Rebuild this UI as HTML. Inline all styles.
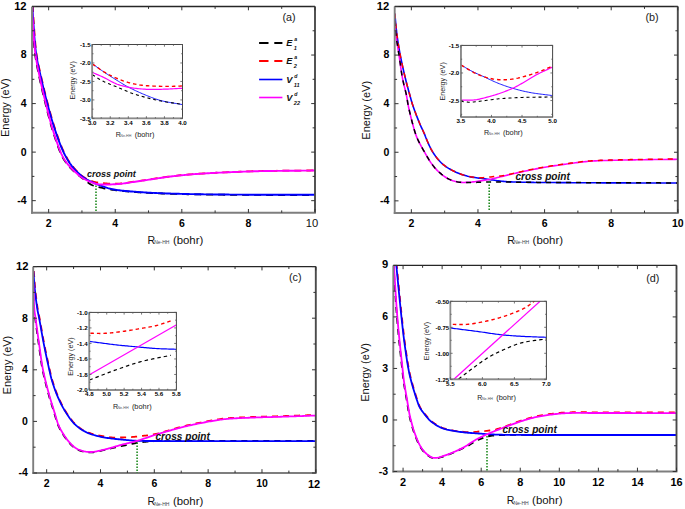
<!DOCTYPE html>
<html><head><meta charset="utf-8"><style>
html,body{margin:0;padding:0;background:#fff;width:685px;height:509px;overflow:hidden;}
svg{display:block;}
text{font-family:"Liberation Sans", sans-serif;}
</style></head><body>
<svg width="685" height="509" viewBox="0 0 685 509" font-family='"Liberation Sans", sans-serif'>
<rect width="685" height="509" fill="#fff"/>
<defs>
</defs>
<defs>
<clipPath id="cA"><rect x="32.00" y="6.00" width="283.00" height="206.80"/></clipPath>
<clipPath id="cB"><rect x="394.70" y="6.00" width="283.10" height="207.00"/></clipPath>
<clipPath id="cC"><rect x="33.20" y="266.00" width="282.60" height="207.00"/></clipPath>
<clipPath id="cD"><rect x="393.30" y="264.90" width="283.20" height="206.60"/></clipPath>
<clipPath id="iA"><rect x="92.20" y="44.50" width="90.30" height="73.90"/></clipPath>
<clipPath id="iB"><rect x="460.90" y="45.40" width="91.70" height="71.70"/></clipPath>
<clipPath id="iC"><rect x="89.30" y="312.40" width="87.10" height="77.60"/></clipPath>
<clipPath id="iD"><rect x="450.40" y="301.30" width="96.00" height="78.00"/></clipPath>
</defs>
<path d="M31.50,5.02 L31.57,6.36 L31.63,7.66 L31.70,8.94 L31.76,10.22 L31.82,11.49 L31.88,12.79 L31.95,14.12 L32.02,15.49 L32.10,16.92 L32.20,18.43 L32.30,20.03 L32.38,21.20 L32.46,22.42 L32.54,23.69 L32.62,25.01 L32.71,26.38 L32.80,27.78 L32.89,29.21 L32.99,30.67 L33.09,32.16 L33.19,33.67 L33.30,35.19 L33.41,36.72 L33.52,38.26 L33.64,39.81 L33.76,41.35 L33.89,42.89 L34.02,44.41 L34.16,45.93 L34.30,47.42 L34.45,48.89 L34.60,50.33 L34.76,51.74 L34.93,53.12 L35.10,54.45 L35.32,56.02 L35.55,57.55 L35.78,59.07 L36.02,60.56 L36.28,62.03 L36.54,63.48 L36.80,64.92 L37.07,66.35 L37.35,67.77 L37.63,69.18 L37.92,70.59 L38.21,71.99 L38.51,73.40 L38.81,74.81 L39.10,76.22 L39.41,77.65 L39.71,79.08 L40.01,80.52 L40.33,81.97 L40.64,83.41 L40.96,84.85 L41.28,86.28 L41.61,87.72 L41.94,89.16 L42.28,90.60 L42.62,92.03 L42.96,93.47 L43.30,94.90 L43.65,96.33 L44.00,97.77 L44.35,99.20 L44.70,100.63 L45.06,102.06 L45.41,103.50 L45.77,104.93 L46.12,106.36 L46.47,107.79 L46.83,109.23 L47.18,110.66 L47.54,112.09 L47.90,113.52 L48.27,114.95 L48.63,116.38 L49.01,117.81 L49.38,119.24 L49.77,120.67 L50.16,122.10 L50.56,123.53 L50.97,124.96 L51.39,126.39 L51.82,127.82 L52.24,129.21 L52.69,130.64 L53.14,132.09 L53.61,133.57 L54.09,135.06 L54.58,136.56 L55.07,138.06 L55.57,139.55 L56.07,141.03 L56.57,142.48 L57.07,143.91 L57.56,145.30 L58.05,146.64 L58.53,147.94 L59.00,149.17 L59.46,150.34 L59.90,151.44 L60.33,152.46 L61.02,154.02 L61.65,155.39 L62.26,156.64 L62.89,157.81 L63.58,158.99 L64.37,160.22 L65.10,161.31 L65.88,162.40 L66.70,163.48 L67.56,164.57 L68.46,165.65 L69.40,166.73 L70.39,167.81 L71.41,168.88 L72.35,169.81 L73.35,170.75 L74.39,171.69 L75.48,172.64 L76.59,173.58 L77.72,174.51 L78.84,175.43 L79.96,176.32 L81.06,177.19 L82.13,178.02 L83.15,178.82 L84.27,179.69 L85.36,180.56 L86.43,181.40 L87.50,182.22 L88.56,182.99 L89.63,183.71 L90.71,184.37 L91.83,184.96 L93.14,185.54 L94.45,186.01 L95.75,186.39 L97.08,186.73 L98.46,187.05 L99.91,187.39 L101.15,187.69 L102.42,187.98 L103.71,188.26 L105.05,188.53 L106.42,188.80 L107.85,189.06 L109.35,189.31 L110.91,189.55 L112.54,189.80 L113.73,189.96 L114.96,190.12 L116.22,190.28 L117.52,190.44 L118.86,190.59 L120.22,190.74 L121.62,190.88 L123.05,191.03 L124.50,191.17 L125.97,191.30 L127.47,191.44 L128.98,191.57 L130.52,191.70 L132.07,191.82 L133.63,191.94 L135.20,192.06 L136.79,192.18 L138.38,192.29 L139.97,192.40 L141.27,192.49 L142.58,192.57 L143.90,192.65 L145.23,192.73 L146.57,192.80 L147.92,192.88 L149.28,192.95 L150.65,193.02 L152.04,193.08 L153.43,193.15 L154.83,193.21 L156.25,193.27 L157.67,193.33 L159.11,193.39 L160.56,193.44 L162.01,193.49 L163.48,193.55 L164.96,193.60 L166.45,193.65 L167.95,193.70 L169.47,193.75 L170.99,193.79 L172.53,193.84 L174.08,193.88 L175.64,193.93 L177.21,193.97 L178.79,194.01 L180.38,194.06 L181.99,194.10 L183.30,194.13 L184.62,194.17 L185.96,194.20 L187.31,194.23 L188.67,194.26 L190.04,194.29 L191.42,194.31 L192.82,194.34 L194.23,194.37 L195.64,194.39 L197.07,194.41 L198.50,194.44 L199.95,194.46 L201.40,194.48 L202.86,194.50 L204.32,194.52 L205.80,194.54 L207.28,194.56 L208.76,194.58 L210.25,194.60 L211.75,194.61 L213.25,194.63 L214.76,194.64 L216.27,194.66 L217.78,194.67 L219.29,194.69 L220.81,194.70 L222.33,194.71 L223.85,194.73 L225.37,194.74 L226.89,194.75 L228.42,194.76 L229.94,194.78 L231.46,194.79 L232.98,194.80 L234.50,194.81 L236.01,194.82 L237.52,194.83 L239.03,194.84 L240.54,194.85 L242.04,194.86 L243.54,194.87 L245.03,194.88 L246.52,194.89 L248.00,194.90 L249.47,194.91 L250.93,194.92 L252.40,194.93 L253.87,194.93 L255.35,194.94 L256.82,194.95 L258.29,194.95 L259.76,194.96 L261.24,194.96 L262.71,194.97 L264.19,194.97 L265.67,194.98 L267.14,194.98 L268.62,194.98 L270.10,194.99 L271.58,194.99 L273.06,194.99 L274.53,194.99 L276.01,194.99 L277.49,194.99 L278.97,194.99 L280.46,194.99 L281.94,194.99 L283.42,194.99 L284.90,194.99 L286.38,194.99 L287.86,194.99 L289.34,194.99 L290.83,194.99 L292.31,194.99 L293.79,194.99 L295.27,194.99 L296.75,194.99 L298.24,194.99 L299.72,194.99 L301.20,194.99 L302.68,194.99 L304.16,194.99 L305.64,194.99 L307.12,194.99 L308.60,194.99 L310.08,194.99 L311.56,194.99 L313.04,195.00 L314.52,195.00 L316.00,195.00" fill="none" stroke="#000000" stroke-width="1.8" stroke-dasharray="7,5" clip-path="url(#cA)" stroke-linejoin="round" />
<path d="M32.70,4.98 L32.78,6.32 L32.85,7.62 L32.92,8.90 L32.99,10.18 L33.06,11.45 L33.13,12.75 L33.21,14.07 L33.29,15.44 L33.38,16.87 L33.48,18.38 L33.60,19.97 L33.68,21.14 L33.77,22.37 L33.86,23.64 L33.95,24.96 L34.04,26.33 L34.14,27.73 L34.23,29.16 L34.33,30.62 L34.44,32.11 L34.55,33.61 L34.66,35.13 L34.77,36.67 L34.90,38.21 L35.02,39.75 L35.15,41.29 L35.29,42.82 L35.43,44.34 L35.58,45.85 L35.73,47.34 L35.89,48.81 L36.05,50.24 L36.23,51.65 L36.41,53.02 L36.60,54.34 L36.83,55.90 L37.08,57.43 L37.34,58.94 L37.61,60.42 L37.89,61.88 L38.18,63.33 L38.48,64.77 L38.78,66.19 L39.09,67.61 L39.41,69.01 L39.73,70.42 L40.05,71.82 L40.38,73.23 L40.71,74.64 L41.03,76.05 L41.36,77.48 L41.69,78.91 L42.02,80.35 L42.35,81.79 L42.68,83.23 L43.02,84.67 L43.36,86.10 L43.70,87.54 L44.05,88.98 L44.40,90.41 L44.75,91.85 L45.10,93.28 L45.46,94.71 L45.82,96.14 L46.19,97.58 L46.56,99.01 L46.93,100.44 L47.31,101.87 L47.69,103.30 L48.07,104.73 L48.45,106.16 L48.84,107.60 L49.22,109.03 L49.61,110.46 L50.00,111.89 L50.39,113.32 L50.79,114.75 L51.19,116.18 L51.60,117.60 L52.02,119.03 L52.44,120.46 L52.87,121.88 L53.31,123.31 L53.76,124.73 L54.21,126.15 L54.68,127.57 L55.14,128.96 L55.61,130.36 L56.09,131.78 L56.57,133.20 L57.07,134.64 L57.57,136.08 L58.07,137.52 L58.59,138.95 L59.11,140.38 L59.63,141.79 L60.16,143.18 L60.69,144.56 L61.23,145.91 L61.77,147.23 L62.32,148.51 L62.86,149.76 L63.41,150.97 L63.96,152.13 L64.65,153.54 L65.34,154.90 L66.02,156.20 L66.70,157.46 L67.39,158.69 L68.09,159.88 L68.81,161.04 L69.56,162.19 L70.34,163.31 L71.16,164.43 L72.01,165.55 L72.94,166.70 L73.93,167.86 L74.95,169.01 L76.01,170.16 L77.10,171.28 L78.20,172.37 L79.31,173.41 L80.42,174.41 L81.51,175.34 L82.59,176.20 L83.63,176.97 L84.86,177.81 L86.08,178.54 L87.29,179.20 L88.49,179.79 L89.70,180.31 L90.91,180.79 L92.13,181.22 L93.40,181.62 L94.63,181.94 L95.86,182.20 L97.14,182.41 L98.52,182.61 L100.05,182.80 L101.21,182.94 L102.44,183.07 L103.73,183.20 L105.08,183.32 L106.48,183.43 L107.92,183.53 L109.40,183.62 L110.89,183.69 L112.39,183.73 L113.91,183.76 L115.41,183.77 L116.91,183.75 L118.38,183.70 L119.75,183.63 L121.11,183.52 L122.46,183.40 L123.81,183.25 L125.16,183.07 L126.52,182.88 L127.90,182.68 L129.29,182.46 L130.70,182.23 L132.15,182.00 L133.62,181.75 L135.14,181.51 L136.69,181.27 L138.29,181.03 L139.95,180.80 L141.17,180.64 L142.41,180.46 L143.67,180.28 L144.95,180.10 L146.25,179.91 L147.57,179.71 L148.90,179.51 L150.26,179.30 L151.63,179.10 L153.02,178.89 L154.43,178.67 L155.85,178.46 L157.29,178.25 L158.74,178.03 L160.21,177.81 L161.69,177.60 L163.18,177.39 L164.69,177.17 L166.21,176.96 L167.74,176.76 L169.28,176.55 L170.84,176.35 L172.40,176.16 L173.97,175.97 L175.55,175.78 L177.14,175.60 L178.74,175.43 L180.35,175.26 L181.96,175.10 L183.27,174.98 L184.59,174.86 L185.93,174.74 L187.27,174.62 L188.63,174.51 L190.01,174.40 L191.39,174.29 L192.79,174.18 L194.19,174.07 L195.61,173.97 L197.03,173.87 L198.47,173.77 L199.91,173.67 L201.36,173.58 L202.82,173.49 L204.29,173.40 L205.76,173.31 L207.24,173.22 L208.73,173.13 L210.22,173.05 L211.72,172.97 L213.22,172.88 L214.73,172.81 L216.24,172.73 L217.75,172.65 L219.27,172.58 L220.78,172.50 L222.30,172.43 L223.83,172.36 L225.35,172.29 L226.87,172.23 L228.39,172.16 L229.92,172.09 L231.44,172.03 L232.96,171.97 L234.48,171.91 L235.99,171.85 L237.51,171.79 L239.02,171.73 L240.52,171.67 L242.03,171.62 L243.52,171.56 L245.02,171.51 L246.50,171.45 L247.99,171.40 L249.45,171.35 L250.92,171.30 L252.39,171.26 L253.86,171.21 L255.33,171.17 L256.81,171.13 L258.28,171.10 L259.75,171.06 L261.23,171.03 L262.70,171.00 L264.18,170.97 L265.66,170.94 L267.13,170.92 L268.61,170.89 L270.09,170.87 L271.57,170.85 L273.05,170.83 L274.53,170.81 L276.01,170.79 L277.49,170.77 L278.97,170.76 L280.45,170.74 L281.93,170.73 L283.41,170.71 L284.89,170.70 L286.37,170.69 L287.86,170.67 L289.34,170.66 L290.82,170.65 L292.30,170.64 L293.78,170.63 L295.27,170.62 L296.75,170.60 L298.23,170.59 L299.71,170.58 L301.19,170.57 L302.68,170.55 L304.16,170.54 L305.64,170.52 L307.12,170.51 L308.60,170.49 L310.08,170.48 L311.56,170.46 L313.04,170.44 L314.52,170.42 L315.99,170.40" fill="none" stroke="#ff0000" stroke-width="1.8" stroke-dasharray="7,5" clip-path="url(#cA)" stroke-linejoin="round" />
<path d="M32.30,5.00 L32.38,6.34 L32.45,7.64 L32.52,8.93 L32.59,10.20 L32.66,11.47 L32.73,12.77 L32.81,14.10 L32.89,15.47 L32.98,16.90 L33.09,18.41 L33.20,20.00 L33.28,21.17 L33.37,22.39 L33.46,23.67 L33.55,24.99 L33.64,26.35 L33.74,27.75 L33.83,29.19 L33.93,30.65 L34.04,32.13 L34.15,33.64 L34.26,35.16 L34.38,36.70 L34.50,38.24 L34.62,39.78 L34.75,41.32 L34.89,42.86 L35.03,44.38 L35.18,45.89 L35.33,47.38 L35.49,48.85 L35.66,50.29 L35.83,51.70 L36.01,53.07 L36.20,54.40 L36.44,55.96 L36.69,57.50 L36.95,59.01 L37.22,60.49 L37.50,61.96 L37.79,63.41 L38.09,64.85 L38.39,66.28 L38.70,67.69 L39.02,69.10 L39.34,70.51 L39.66,71.91 L39.99,73.32 L40.32,74.73 L40.64,76.14 L40.97,77.57 L41.30,79.00 L41.63,80.44 L41.96,81.88 L42.29,83.32 L42.63,84.76 L42.97,86.20 L43.31,87.63 L43.66,89.07 L44.01,90.51 L44.36,91.94 L44.72,93.38 L45.07,94.81 L45.44,96.24 L45.80,97.68 L46.17,99.11 L46.54,100.54 L46.92,101.97 L47.30,103.40 L47.68,104.83 L48.07,106.27 L48.45,107.70 L48.84,109.13 L49.22,110.57 L49.61,112.00 L50.01,113.43 L50.41,114.86 L50.81,116.29 L51.22,117.72 L51.63,119.14 L52.06,120.57 L52.49,122.00 L52.93,123.42 L53.37,124.85 L53.83,126.28 L54.30,127.70 L54.76,129.08 L55.23,130.49 L55.71,131.90 L56.19,133.33 L56.69,134.77 L57.19,136.21 L57.70,137.65 L58.21,139.09 L58.73,140.52 L59.26,141.93 L59.79,143.33 L60.32,144.70 L60.86,146.06 L61.40,147.38 L61.95,148.67 L62.50,149.92 L63.05,151.13 L63.60,152.30 L64.29,153.72 L64.98,155.08 L65.66,156.39 L66.35,157.66 L67.04,158.89 L67.75,160.09 L68.48,161.26 L69.23,162.41 L70.01,163.55 L70.84,164.67 L71.70,165.80 L72.63,166.95 L73.59,168.10 L74.60,169.23 L75.63,170.35 L76.69,171.45 L77.78,172.53 L78.88,173.57 L80.00,174.57 L81.13,175.53 L82.26,176.44 L83.40,177.30 L84.54,178.10 L85.69,178.84 L86.85,179.53 L88.02,180.17 L89.20,180.78 L90.41,181.37 L91.64,181.93 L92.89,182.49 L94.18,183.04 L95.50,183.60 L96.79,184.14 L98.10,184.67 L99.43,185.19 L100.78,185.70 L102.15,186.20 L103.55,186.69 L104.98,187.16 L106.44,187.61 L107.93,188.05 L109.45,188.46 L111.01,188.84 L112.60,189.20 L113.87,189.46 L115.16,189.70 L116.48,189.92 L117.81,190.13 L119.17,190.31 L120.54,190.49 L121.93,190.65 L123.35,190.80 L124.78,190.94 L126.23,191.07 L127.69,191.20 L129.18,191.32 L130.68,191.43 L132.19,191.54 L133.72,191.65 L135.27,191.76 L136.83,191.87 L138.41,191.98 L140.00,192.10 L141.30,192.19 L142.61,192.29 L143.92,192.37 L145.25,192.46 L146.59,192.54 L147.94,192.62 L149.30,192.69 L150.67,192.77 L152.05,192.84 L153.45,192.91 L154.85,192.97 L156.26,193.04 L157.69,193.10 L159.12,193.16 L160.57,193.22 L162.03,193.27 L163.49,193.33 L164.97,193.38 L166.47,193.43 L167.97,193.48 L169.48,193.53 L171.00,193.58 L172.54,193.63 L174.09,193.67 L175.65,193.72 L177.22,193.77 L178.80,193.81 L180.39,193.86 L182.00,193.90 L183.31,193.94 L184.63,193.97 L185.97,194.00 L187.31,194.03 L188.67,194.06 L190.05,194.09 L191.43,194.12 L192.83,194.15 L194.23,194.17 L195.65,194.20 L197.07,194.22 L198.51,194.25 L199.95,194.27 L201.40,194.29 L202.86,194.31 L204.33,194.33 L205.80,194.35 L207.28,194.37 L208.77,194.39 L210.26,194.40 L211.76,194.42 L213.26,194.44 L214.76,194.45 L216.27,194.47 L217.78,194.48 L219.30,194.49 L220.81,194.51 L222.33,194.52 L223.85,194.53 L225.38,194.54 L226.90,194.56 L228.42,194.57 L229.94,194.58 L231.46,194.59 L232.98,194.60 L234.50,194.61 L236.01,194.62 L237.53,194.63 L239.04,194.64 L240.54,194.65 L242.04,194.66 L243.54,194.67 L245.03,194.68 L246.52,194.69 L248.00,194.70 L249.47,194.71 L250.94,194.72 L252.41,194.73 L253.88,194.73 L255.35,194.74 L256.82,194.75 L258.29,194.75 L259.77,194.76 L261.24,194.76 L262.71,194.77 L264.19,194.77 L265.67,194.78 L267.14,194.78 L268.62,194.78 L270.10,194.79 L271.58,194.79 L273.06,194.79 L274.53,194.79 L276.01,194.79 L277.49,194.79 L278.97,194.79 L280.46,194.79 L281.94,194.79 L283.42,194.79 L284.90,194.79 L286.38,194.79 L287.86,194.79 L289.34,194.79 L290.83,194.79 L292.31,194.79 L293.79,194.79 L295.27,194.79 L296.75,194.79 L298.24,194.79 L299.72,194.79 L301.20,194.79 L302.68,194.79 L304.16,194.79 L305.64,194.79 L307.12,194.79 L308.60,194.79 L310.08,194.79 L311.56,194.79 L313.04,194.80 L314.52,194.80 L316.00,194.80" fill="none" stroke="#0000ff" stroke-width="1.9" clip-path="url(#cA)" stroke-linejoin="round" />
<path d="M31.90,5.00 L31.97,6.34 L32.03,7.64 L32.10,8.93 L32.16,10.20 L32.22,11.47 L32.28,12.77 L32.35,14.10 L32.42,15.47 L32.50,16.90 L32.60,18.41 L32.70,20.00 L32.78,21.17 L32.86,22.39 L32.94,23.67 L33.02,24.99 L33.11,26.35 L33.20,27.75 L33.29,29.18 L33.39,30.65 L33.49,32.13 L33.59,33.64 L33.69,35.16 L33.80,36.69 L33.92,38.23 L34.04,39.78 L34.16,41.32 L34.29,42.85 L34.42,44.38 L34.56,45.89 L34.70,47.38 L34.85,48.85 L35.00,50.29 L35.16,51.70 L35.33,53.07 L35.50,54.40 L35.72,55.96 L35.94,57.49 L36.18,59.00 L36.42,60.49 L36.67,61.96 L36.93,63.41 L37.19,64.85 L37.47,66.27 L37.74,67.69 L38.03,69.10 L38.31,70.51 L38.60,71.91 L38.90,73.32 L39.20,74.73 L39.50,76.14 L39.80,77.57 L40.10,79.00 L40.41,80.44 L40.72,81.88 L41.03,83.32 L41.35,84.76 L41.67,86.20 L42.00,87.63 L42.33,89.07 L42.67,90.50 L43.01,91.94 L43.35,93.37 L43.69,94.81 L44.04,96.24 L44.39,97.67 L44.74,99.10 L45.09,100.54 L45.44,101.97 L45.80,103.40 L46.16,104.83 L46.51,106.27 L46.86,107.70 L47.22,109.13 L47.57,110.56 L47.93,111.99 L48.29,113.42 L48.65,114.85 L49.02,116.28 L49.39,117.71 L49.77,119.14 L50.15,120.57 L50.55,121.99 L50.95,123.42 L51.35,124.85 L51.77,126.27 L52.20,127.70 L52.63,129.09 L53.07,130.52 L53.52,131.97 L53.99,133.45 L54.47,134.94 L54.96,136.44 L55.45,137.94 L55.95,139.43 L56.45,140.90 L56.95,142.35 L57.45,143.78 L57.94,145.16 L58.43,146.51 L58.91,147.80 L59.38,149.03 L59.83,150.19 L60.27,151.29 L60.70,152.30 L61.38,153.86 L62.01,155.22 L62.61,156.45 L63.24,157.62 L63.92,158.78 L64.70,160.00 L65.43,161.08 L66.20,162.16 L67.01,163.24 L67.87,164.32 L68.76,165.39 L69.70,166.46 L70.68,167.53 L71.70,168.60 L72.62,169.53 L73.58,170.48 L74.58,171.44 L75.62,172.41 L76.68,173.37 L77.77,174.32 L78.88,175.25 L80.00,176.14 L81.14,176.98 L82.27,177.77 L83.40,178.50 L84.73,179.26 L86.13,179.99 L87.58,180.66 L89.04,181.29 L90.49,181.87 L91.89,182.39 L93.21,182.86 L94.43,183.26 L95.50,183.60 L96.87,184.00 L98.01,184.23 L99.50,184.40 L100.49,184.47 L101.62,184.52 L102.88,184.55 L104.24,184.57 L105.69,184.56 L107.22,184.54 L108.79,184.51 L110.41,184.45 L112.04,184.39 L113.67,184.31 L115.29,184.22 L116.87,184.11 L118.40,184.00 L119.79,183.88 L121.16,183.74 L122.52,183.59 L123.88,183.42 L125.24,183.23 L126.60,183.04 L127.98,182.83 L129.37,182.62 L130.78,182.40 L132.22,182.17 L133.69,181.94 L135.20,181.70 L136.75,181.47 L138.35,181.23 L140.00,181.00 L141.22,180.83 L142.46,180.65 L143.72,180.47 L145.00,180.28 L146.31,180.08 L147.63,179.88 L148.96,179.68 L150.32,179.47 L151.69,179.26 L153.08,179.04 L154.49,178.82 L155.91,178.61 L157.35,178.39 L158.80,178.17 L160.27,177.95 L161.75,177.73 L163.24,177.52 L164.75,177.30 L166.26,177.09 L167.79,176.88 L169.33,176.67 L170.89,176.47 L172.45,176.27 L174.02,176.07 L175.60,175.89 L177.19,175.70 L178.78,175.53 L180.39,175.36 L182.00,175.20 L183.31,175.08 L184.63,174.95 L185.96,174.83 L187.31,174.72 L188.67,174.60 L190.04,174.49 L191.42,174.38 L192.82,174.27 L194.22,174.17 L195.63,174.06 L197.06,173.96 L198.49,173.86 L199.94,173.76 L201.39,173.67 L202.85,173.58 L204.31,173.48 L205.79,173.39 L207.27,173.31 L208.75,173.22 L210.24,173.14 L211.74,173.06 L213.24,172.98 L214.75,172.90 L216.26,172.82 L217.77,172.74 L219.29,172.67 L220.80,172.60 L222.32,172.53 L223.84,172.46 L225.37,172.39 L226.89,172.32 L228.41,172.26 L229.93,172.19 L231.45,172.13 L232.97,172.07 L234.49,172.00 L236.01,171.94 L237.52,171.89 L239.03,171.83 L240.54,171.77 L242.04,171.72 L243.54,171.66 L245.03,171.61 L246.52,171.55 L248.00,171.50 L249.47,171.45 L250.94,171.40 L252.40,171.36 L253.87,171.31 L255.35,171.27 L256.82,171.23 L258.29,171.20 L259.76,171.16 L261.24,171.13 L262.71,171.10 L264.19,171.07 L265.66,171.04 L267.14,171.02 L268.62,170.99 L270.10,170.97 L271.57,170.95 L273.05,170.93 L274.53,170.91 L276.01,170.89 L277.49,170.87 L278.97,170.86 L280.45,170.84 L281.93,170.83 L283.41,170.81 L284.90,170.80 L286.38,170.79 L287.86,170.77 L289.34,170.76 L290.82,170.75 L292.31,170.74 L293.79,170.73 L295.27,170.72 L296.75,170.70 L298.23,170.69 L299.72,170.68 L301.20,170.67 L302.68,170.65 L304.16,170.64 L305.64,170.62 L307.12,170.61 L308.60,170.59 L310.08,170.58 L311.56,170.56 L313.04,170.54 L314.52,170.52 L316.00,170.50" fill="none" stroke="#ff00ff" stroke-width="1.9" clip-path="url(#cA)" stroke-linejoin="round" />
<line x1="32.00" y1="6.50" x2="315.00" y2="6.50" stroke="#262626" stroke-width="1.3"/>
<line x1="315.00" y1="6.50" x2="315.00" y2="212.80" stroke="#4a4a4a" stroke-width="1.9"/>
<line x1="32.00" y1="6.50" x2="32.00" y2="213.70" stroke="#7e7e7e" stroke-width="1.9"/>
<line x1="31.10" y1="212.80" x2="315.90" y2="212.80" stroke="#7e7e7e" stroke-width="1.9"/>
<path d="M48.65,212.80L48.65,209.00 M48.65,6.50L48.65,10.30 M115.24,212.80L115.24,209.00 M115.24,6.50L115.24,10.30 M181.82,212.80L181.82,209.00 M181.82,6.50L181.82,10.30 M248.41,212.80L248.41,209.00 M248.41,6.50L248.41,10.30 M315.00,212.80L315.00,209.00 M315.00,6.50L315.00,10.30 M81.94,212.80L81.94,210.40 M81.94,6.50L81.94,8.90 M148.53,212.80L148.53,210.40 M148.53,6.50L148.53,8.90 M215.12,212.80L215.12,210.40 M215.12,6.50L215.12,8.90 M281.71,212.80L281.71,210.40 M281.71,6.50L281.71,8.90 M32.00,200.66L35.80,200.66 M315.00,200.66L311.20,200.66 M32.00,152.12L35.80,152.12 M315.00,152.12L311.20,152.12 M32.00,103.58L35.80,103.58 M315.00,103.58L311.20,103.58 M32.00,55.04L35.80,55.04 M315.00,55.04L311.20,55.04 M32.00,6.50L35.80,6.50 M315.00,6.50L311.20,6.50 M32.00,176.39L34.40,176.39 M315.00,176.39L312.60,176.39 M32.00,127.85L34.40,127.85 M315.00,127.85L312.60,127.85 M32.00,79.31L34.40,79.31 M315.00,79.31L312.60,79.31 M32.00,30.77L34.40,30.77 M315.00,30.77L312.60,30.77" stroke="#333" stroke-width="1.0" fill="none"/>
<text x="48.65" y="226.50" font-size="10.5" font-weight="bold" font-style="normal" text-anchor="middle" fill="#000" >2</text>
<text x="115.24" y="226.50" font-size="10.5" font-weight="bold" font-style="normal" text-anchor="middle" fill="#000" >4</text>
<text x="181.82" y="226.50" font-size="10.5" font-weight="bold" font-style="normal" text-anchor="middle" fill="#000" >6</text>
<text x="248.41" y="226.50" font-size="10.5" font-weight="bold" font-style="normal" text-anchor="middle" fill="#000" >8</text>
<text x="312.00" y="226.90" font-size="11.2" font-weight="normal" font-style="normal" text-anchor="middle" fill="#111" >10</text>
<text x="26.70" y="204.06" font-size="10.5" font-weight="bold" font-style="normal" text-anchor="end" fill="#000" >-4</text>
<text x="26.70" y="155.52" font-size="10.5" font-weight="bold" font-style="normal" text-anchor="end" fill="#000" >0</text>
<text x="26.70" y="106.98" font-size="10.5" font-weight="bold" font-style="normal" text-anchor="end" fill="#000" >4</text>
<text x="26.70" y="58.44" font-size="10.5" font-weight="bold" font-style="normal" text-anchor="end" fill="#000" >8</text>
<text x="26.60" y="9.60" font-size="11.2" font-weight="bold" font-style="normal" text-anchor="end" fill="#000" >12</text>
<text x="0" y="0" font-size="11" text-anchor="middle" fill="#111" transform="translate(8.60,107.65) rotate(-90)">Energy (eV)</text>
<text x="147.60" y="243.90" font-size="10.6" fill="#111">R</text>
<text x="154.20" y="244.20" font-size="5" fill="#3a3f4a">Ne-HH</text>
<text x="172.90" y="243.90" font-size="11.4" fill="#111">(bohr)</text>
<text x="282.40" y="20.60" font-size="10.8" font-weight="normal" font-style="normal" text-anchor="start" fill="#1a1a1a" >(a)</text>
<line x1="96.00" y1="185.50" x2="96.00" y2="212.00" stroke="#1f8a1f" stroke-width="1.6" stroke-dasharray="1.5,1.5"/>
<text x="86.90" y="176.80" font-size="9.1" font-weight="bold" font-style="italic" text-anchor="start" fill="#111" >cross point</text>
<line x1="259.1" y1="42.90" x2="282.4" y2="42.90" stroke="#000000" stroke-width="2.0" stroke-dasharray="9.4,5.8"/>
<line x1="259.1" y1="60.90" x2="282.4" y2="60.90" stroke="#ff0000" stroke-width="2.0" stroke-dasharray="9.4,5.8"/>
<line x1="259.1" y1="79.50" x2="282.4" y2="79.50" stroke="#0000ff" stroke-width="1.6"/>
<line x1="259.1" y1="97.50" x2="282.4" y2="97.50" stroke="#ff00ff" stroke-width="1.6"/>
<text x="286.2" y="46.30" font-size="9.2" font-weight="bold" font-style="italic" fill="#111">E</text>
<text x="294.2" y="41.30" font-size="5.2" font-weight="bold" font-style="italic" fill="#111">a</text>
<text x="293.8" y="49.90" font-size="5.6" font-weight="bold" font-style="italic" fill="#111">1</text>
<text x="286.2" y="64.30" font-size="9.2" font-weight="bold" font-style="italic" fill="#111">E</text>
<text x="294.2" y="59.30" font-size="5.2" font-weight="bold" font-style="italic" fill="#111">a</text>
<text x="293.8" y="67.90" font-size="5.6" font-weight="bold" font-style="italic" fill="#111">2</text>
<text x="286.2" y="82.90" font-size="9.2" font-weight="bold" font-style="italic" fill="#111">V</text>
<text x="294.2" y="77.90" font-size="5.2" font-weight="bold" font-style="italic" fill="#111">d</text>
<text x="293.8" y="86.50" font-size="5.6" font-weight="bold" font-style="italic" fill="#111">11</text>
<text x="286.2" y="100.90" font-size="9.2" font-weight="bold" font-style="italic" fill="#111">V</text>
<text x="294.2" y="95.90" font-size="5.2" font-weight="bold" font-style="italic" fill="#111">d</text>
<text x="293.8" y="104.50" font-size="5.6" font-weight="bold" font-style="italic" fill="#111">22</text>
<rect x="92.2" y="44.5" width="90.3" height="73.9" fill="#fff"/>
<path d="M92.40,63.80 L93.52,64.61 L94.63,65.41 L95.72,66.21 L96.82,67.01 L97.93,67.81 L99.05,68.62 L100.20,69.44 L101.38,70.26 L102.60,71.10 L103.72,71.86 L104.89,72.64 L106.09,73.43 L107.31,74.23 L108.56,75.04 L109.82,75.85 L111.08,76.66 L112.34,77.46 L113.59,78.25 L114.82,79.02 L116.03,79.77 L117.20,80.50 L118.40,81.24 L119.57,81.97 L120.71,82.67 L121.83,83.36 L122.95,84.04 L124.08,84.72 L125.22,85.38 L126.40,86.05 L127.62,86.72 L128.90,87.40 L130.12,88.03 L131.39,88.67 L132.70,89.31 L134.04,89.95 L135.41,90.60 L136.79,91.24 L138.19,91.88 L139.59,92.50 L140.98,93.12 L142.37,93.72 L143.74,94.30 L145.09,94.86 L146.40,95.40 L147.75,95.95 L149.07,96.48 L150.37,97.00 L151.65,97.50 L152.93,97.98 L154.21,98.46 L155.50,98.91 L156.82,99.35 L158.16,99.78 L159.56,100.20 L161.00,100.60 L162.30,100.94 L163.64,101.25 L165.01,101.55 L166.41,101.84 L167.83,102.11 L169.27,102.37 L170.73,102.62 L172.20,102.87 L173.68,103.11 L175.17,103.35 L176.65,103.59 L178.13,103.84 L179.60,104.08 L181.06,104.34 L182.50,104.60" fill="none" stroke="#0000ff" stroke-width="0.9" clip-path="url(#iA)" stroke-linejoin="round" />
<path d="M92.40,72.50 L93.66,73.04 L94.91,73.57 L96.15,74.09 L97.40,74.61 L98.65,75.14 L99.93,75.70 L101.25,76.28 L102.60,76.90 L103.83,77.50 L105.10,78.15 L106.39,78.83 L107.70,79.55 L109.04,80.28 L110.38,81.01 L111.74,81.72 L113.11,82.41 L114.47,83.06 L115.84,83.66 L117.20,84.20 L118.51,84.66 L119.82,85.09 L121.14,85.48 L122.46,85.84 L123.79,86.18 L125.12,86.49 L126.45,86.79 L127.79,87.06 L129.13,87.32 L130.46,87.56 L131.80,87.80 L133.25,88.04 L134.71,88.25 L136.17,88.45 L137.63,88.62 L139.09,88.77 L140.55,88.91 L142.01,89.02 L143.47,89.13 L144.94,89.22 L146.40,89.30 L147.85,89.36 L149.27,89.41 L150.69,89.43 L152.10,89.44 L153.52,89.44 L154.96,89.43 L156.41,89.40 L157.90,89.37 L159.43,89.34 L161.00,89.30 L162.31,89.27 L163.66,89.22 L165.04,89.17 L166.44,89.11 L167.86,89.05 L169.30,88.98 L170.76,88.91 L172.23,88.83 L173.70,88.75 L175.18,88.67 L176.66,88.60 L178.13,88.52 L179.60,88.44 L181.06,88.37 L182.50,88.30" fill="none" stroke="#ff00ff" stroke-width="1.2" clip-path="url(#iA)" stroke-linejoin="round" />
<path d="M92.40,64.00 L93.61,64.82 L94.81,65.64 L96.00,66.48 L97.19,67.32 L98.38,68.16 L99.57,69.00 L100.77,69.83 L101.98,70.64 L103.20,71.44 L104.44,72.22 L105.71,72.97 L107.00,73.70 L108.27,74.38 L109.58,75.05 L110.90,75.71 L112.25,76.35 L113.61,76.98 L114.99,77.60 L116.37,78.19 L117.75,78.77 L119.12,79.32 L120.49,79.86 L121.85,80.36 L123.18,80.85 L124.50,81.30 L125.86,81.75 L127.21,82.17 L128.54,82.56 L129.87,82.93 L131.19,83.27 L132.50,83.59 L133.81,83.89 L135.13,84.17 L136.45,84.43 L137.77,84.67 L139.10,84.90 L140.55,85.12 L142.01,85.30 L143.47,85.46 L144.93,85.59 L146.39,85.70 L147.85,85.80 L149.31,85.88 L150.78,85.96 L152.24,86.03 L153.70,86.10 L155.16,86.17 L156.62,86.23 L158.08,86.28 L159.55,86.32 L161.01,86.35 L162.47,86.37 L163.93,86.39 L165.39,86.40 L166.85,86.40 L168.30,86.40 L169.73,86.39 L171.15,86.36 L172.57,86.33 L173.99,86.29 L175.41,86.24 L176.83,86.19 L178.25,86.14 L179.66,86.09 L181.08,86.04 L182.50,86.00" fill="none" stroke="#ff0000" stroke-width="1.4" stroke-dasharray="3.5,3" clip-path="url(#iA)" stroke-linejoin="round" />
<path d="M92.40,74.70 L93.66,75.49 L94.90,76.30 L96.12,77.10 L97.35,77.91 L98.60,78.71 L99.89,79.49 L101.21,80.26 L102.60,81.00 L103.81,81.60 L105.07,82.18 L106.36,82.75 L107.68,83.31 L109.03,83.85 L110.39,84.40 L111.76,84.93 L113.13,85.47 L114.50,86.01 L115.86,86.55 L117.20,87.10 L118.53,87.66 L119.85,88.23 L121.17,88.81 L122.50,89.39 L123.82,89.96 L125.15,90.54 L126.47,91.10 L127.80,91.65 L129.13,92.19 L130.46,92.71 L131.80,93.20 L133.12,93.66 L134.44,94.11 L135.76,94.54 L137.08,94.96 L138.41,95.36 L139.74,95.75 L141.07,96.14 L142.40,96.51 L143.73,96.88 L145.07,97.24 L146.40,97.60 L147.84,97.98 L149.27,98.35 L150.68,98.71 L152.09,99.05 L153.51,99.39 L154.94,99.72 L156.40,100.05 L157.89,100.37 L159.42,100.69 L161.00,101.00 L162.31,101.25 L163.65,101.49 L165.03,101.73 L166.43,101.96 L167.85,102.19 L169.29,102.41 L170.75,102.64 L172.22,102.86 L173.70,103.08 L175.18,103.29 L176.66,103.51 L178.13,103.73 L179.60,103.95 L181.06,104.17 L182.50,104.40" fill="none" stroke="#000000" stroke-width="1.1" stroke-dasharray="3,3" clip-path="url(#iA)" stroke-linejoin="round" />
<rect x="92.20" y="44.50" width="90.30" height="73.90" fill="none" stroke="#444" stroke-width="1.0"/>
<line x1="92.20" y1="44.50" x2="92.20" y2="118.40" stroke="#8a8a8a" stroke-width="1.7"/>
<line x1="92.20" y1="118.40" x2="182.50" y2="118.40" stroke="#8a8a8a" stroke-width="1.7"/>
<path d="M92.20,118.40L92.20,116.20 M92.20,44.50L92.20,46.70 M110.26,118.40L110.26,116.20 M110.26,44.50L110.26,46.70 M128.32,118.40L128.32,116.20 M128.32,44.50L128.32,46.70 M146.38,118.40L146.38,116.20 M146.38,44.50L146.38,46.70 M164.44,118.40L164.44,116.20 M164.44,44.50L164.44,46.70 M182.50,118.40L182.50,116.20 M182.50,44.50L182.50,46.70 M101.23,118.40L101.23,117.10 M101.23,44.50L101.23,45.80 M119.29,118.40L119.29,117.10 M119.29,44.50L119.29,45.80 M137.35,118.40L137.35,117.10 M137.35,44.50L137.35,45.80 M155.41,118.40L155.41,117.10 M155.41,44.50L155.41,45.80 M173.47,118.40L173.47,117.10 M173.47,44.50L173.47,45.80 M92.20,44.50L94.40,44.50 M182.50,44.50L180.30,44.50 M92.20,62.98L94.40,62.98 M182.50,62.98L180.30,62.98 M92.20,81.45L94.40,81.45 M182.50,81.45L180.30,81.45 M92.20,99.93L94.40,99.93 M182.50,99.93L180.30,99.93 M92.20,118.40L94.40,118.40 M182.50,118.40L180.30,118.40 M92.20,53.74L93.50,53.74 M182.50,53.74L181.20,53.74 M92.20,72.21L93.50,72.21 M182.50,72.21L181.20,72.21 M92.20,90.69L93.50,90.69 M182.50,90.69L181.20,90.69 M92.20,109.16L93.50,109.16 M182.50,109.16L181.20,109.16" stroke="#555" stroke-width="0.8" fill="none"/>
<text x="92.20" y="124.60" font-size="6.2" font-weight="bold" font-style="normal" text-anchor="middle" fill="#000" >3.0</text>
<text x="110.26" y="124.60" font-size="6.2" font-weight="bold" font-style="normal" text-anchor="middle" fill="#000" >3.2</text>
<text x="128.32" y="124.60" font-size="6.2" font-weight="bold" font-style="normal" text-anchor="middle" fill="#000" >3.4</text>
<text x="146.38" y="124.60" font-size="6.2" font-weight="bold" font-style="normal" text-anchor="middle" fill="#000" >3.6</text>
<text x="164.44" y="124.60" font-size="6.2" font-weight="bold" font-style="normal" text-anchor="middle" fill="#000" >3.8</text>
<text x="182.50" y="124.60" font-size="6.2" font-weight="bold" font-style="normal" text-anchor="middle" fill="#000" >4.0</text>
<text x="90.60" y="46.70" font-size="6.2" font-weight="bold" font-style="normal" text-anchor="end" fill="#000" >-1.5</text>
<text x="90.60" y="65.17" font-size="6.2" font-weight="bold" font-style="normal" text-anchor="end" fill="#000" >-2.0</text>
<text x="90.60" y="83.65" font-size="6.2" font-weight="bold" font-style="normal" text-anchor="end" fill="#000" >-2.5</text>
<text x="90.60" y="102.13" font-size="6.2" font-weight="bold" font-style="normal" text-anchor="end" fill="#000" >-3.0</text>
<text x="90.60" y="120.60" font-size="6.2" font-weight="bold" font-style="normal" text-anchor="end" fill="#000" >-3.5</text>
<text x="0" y="0" font-size="7.2" text-anchor="middle" fill="#222" transform="translate(74.90,80.40) rotate(-90)">Energy (eV)</text>
<text x="115.70" y="136.50" font-size="7" fill="#222">R</text>
<text x="120.30" y="136.70" font-size="3.6" fill="#4a505c">Ne-HH</text>
<text x="154.40" y="136.50" font-size="7.4" fill="#222" text-anchor="end">(bohr)</text>
<path d="M394.80,13.50 L394.94,14.89 L395.07,16.29 L395.20,17.69 L395.33,19.09 L395.46,20.49 L395.58,21.89 L395.71,23.28 L395.84,24.68 L395.98,26.08 L396.11,27.47 L396.26,28.87 L396.41,30.25 L396.56,31.64 L396.73,33.02 L396.90,34.40 L397.09,35.84 L397.28,37.27 L397.48,38.68 L397.69,40.09 L397.89,41.50 L398.11,42.90 L398.33,44.30 L398.56,45.71 L398.79,47.13 L399.04,48.55 L399.29,49.99 L399.55,51.44 L399.82,52.91 L400.10,54.40 L400.36,55.73 L400.62,57.08 L400.90,58.47 L401.19,59.87 L401.49,61.29 L401.79,62.72 L402.10,64.16 L402.42,65.61 L402.74,67.05 L403.06,68.49 L403.39,69.92 L403.71,71.33 L404.04,72.73 L404.36,74.11 L404.68,75.46 L404.99,76.77 L405.30,78.06 L405.60,79.30 L405.99,80.88 L406.38,82.43 L406.78,83.95 L407.17,85.44 L407.56,86.90 L407.95,88.32 L408.33,89.72 L408.71,91.09 L409.08,92.42 L409.45,93.73 L409.80,95.00 L410.22,96.52 L410.61,97.97 L410.99,99.37 L411.37,100.73 L411.76,102.07 L412.17,103.42 L412.60,104.80 L413.01,106.04 L413.44,107.28 L413.88,108.52 L414.33,109.76 L414.79,111.00 L415.26,112.23 L415.73,113.47 L416.20,114.70 L416.67,115.93 L417.14,117.16 L417.62,118.39 L418.10,119.61 L418.58,120.84 L419.08,122.06 L419.58,123.28 L420.10,124.50 L420.66,125.77 L421.26,127.08 L421.88,128.41 L422.50,129.74 L423.11,131.02 L423.67,132.22 L424.18,133.33 L424.60,134.30 L425.03,135.41 L425.34,136.33 L425.80,137.50 L426.19,138.42 L426.64,139.50 L427.14,140.71 L427.70,142.02 L428.30,143.40 L428.94,144.83 L429.61,146.28 L430.31,147.72 L431.03,149.12 L431.76,150.46 L432.50,151.70 L433.24,152.86 L434.00,154.01 L434.79,155.15 L435.60,156.28 L436.43,157.38 L437.28,158.47 L438.16,159.52 L439.06,160.55 L439.99,161.54 L440.93,162.49 L441.90,163.40 L442.95,164.32 L444.03,165.19 L445.14,166.02 L446.27,166.82 L447.42,167.58 L448.60,168.32 L449.80,169.02 L451.02,169.70 L452.25,170.36 L453.50,171.00 L454.71,171.59 L455.94,172.16 L457.21,172.70 L458.49,173.22 L459.79,173.72 L461.10,174.20 L462.41,174.65 L463.72,175.08 L465.03,175.48 L466.32,175.85 L467.60,176.20 L469.05,176.55 L470.51,176.86 L471.98,177.12 L473.44,177.35 L474.89,177.56 L476.32,177.75 L477.72,177.93 L479.08,178.11 L480.40,178.30 L481.94,178.53 L483.38,178.73 L484.77,178.91 L486.17,179.10 L487.63,179.29 L489.20,179.50 L490.47,179.68 L491.77,179.87 L493.10,180.07 L494.47,180.28 L495.87,180.49 L497.30,180.70 L498.77,180.89 L500.28,181.08 L501.82,181.25 L503.40,181.40 L504.69,181.50 L506.01,181.60 L507.35,181.68 L508.72,181.76 L510.11,181.83 L511.53,181.89 L512.97,181.94 L514.43,181.99 L515.91,182.04 L517.40,182.08 L518.92,182.12 L520.45,182.16 L521.99,182.19 L523.55,182.23 L525.12,182.26 L526.70,182.30 L528.02,182.33 L529.35,182.36 L530.68,182.38 L532.02,182.40 L533.36,182.42 L534.72,182.44 L536.08,182.46 L537.46,182.47 L538.85,182.48 L540.25,182.49 L541.66,182.50 L543.09,182.51 L544.53,182.52 L545.99,182.53 L547.46,182.53 L548.96,182.54 L550.47,182.55 L552.00,182.55 L553.56,182.56 L555.13,182.57 L556.73,182.58 L558.35,182.59 L560.00,182.60 L561.26,182.61 L562.54,182.62 L563.84,182.63 L565.16,182.63 L566.50,182.64 L567.85,182.65 L569.22,182.66 L570.61,182.67 L572.01,182.68 L573.43,182.69 L574.86,182.69 L576.30,182.70 L577.75,182.71 L579.22,182.72 L580.69,182.73 L582.18,182.73 L583.67,182.74 L585.17,182.75 L586.68,182.76 L588.19,182.77 L589.71,182.77 L591.24,182.78 L592.76,182.79 L594.29,182.80 L595.83,182.80 L597.36,182.81 L598.90,182.82 L600.43,182.82 L601.96,182.83 L603.50,182.84 L605.02,182.84 L606.55,182.85 L608.07,182.86 L609.59,182.86 L611.10,182.87 L612.60,182.87 L614.10,182.88 L615.59,182.88 L617.07,182.89 L618.54,182.90 L620.00,182.90 L621.47,182.90 L622.94,182.91 L624.41,182.91 L625.88,182.92 L627.35,182.92 L628.82,182.93 L630.28,182.93 L631.75,182.93 L633.21,182.94 L634.68,182.94 L636.14,182.94 L637.60,182.94 L639.07,182.95 L640.53,182.95 L641.99,182.95 L643.45,182.95 L644.91,182.96 L646.38,182.96 L647.84,182.96 L649.30,182.96 L650.76,182.96 L652.22,182.97 L653.68,182.97 L655.14,182.97 L656.60,182.97 L658.05,182.97 L659.51,182.97 L660.97,182.98 L662.43,182.98 L663.89,182.98 L665.35,182.98 L666.81,182.98 L668.27,182.98 L669.73,182.99 L671.19,182.99 L672.65,182.99 L674.11,182.99 L675.58,183.00 L677.04,183.00 L678.50,183.00" fill="none" stroke="#0000ff" stroke-width="1.6" clip-path="url(#cB)" stroke-linejoin="round" />
<path d="M394.80,21.00 L394.92,22.47 L395.02,23.93 L395.12,25.37 L395.22,26.81 L395.33,28.27 L395.44,29.74 L395.57,31.25 L395.72,32.80 L395.90,34.40 L396.06,35.70 L396.23,37.03 L396.42,38.39 L396.61,39.76 L396.82,41.16 L397.04,42.58 L397.26,44.02 L397.49,45.47 L397.73,46.93 L397.96,48.41 L398.20,49.90 L398.44,51.39 L398.67,52.89 L398.90,54.40 L399.11,55.80 L399.32,57.24 L399.53,58.71 L399.74,60.20 L399.95,61.70 L400.17,63.22 L400.39,64.75 L400.60,66.28 L400.82,67.81 L401.05,69.33 L401.27,70.84 L401.50,72.32 L401.73,73.79 L401.97,75.22 L402.21,76.62 L402.45,77.98 L402.70,79.30 L403.02,80.88 L403.36,82.43 L403.71,83.95 L404.07,85.44 L404.44,86.89 L404.80,88.32 L405.16,89.71 L405.50,91.08 L405.82,92.42 L406.13,93.72 L406.40,95.00 L406.69,96.52 L406.95,97.96 L407.18,99.36 L407.39,100.72 L407.61,102.06 L407.84,103.42 L408.10,104.80 L408.39,106.21 L408.68,107.63 L408.99,109.05 L409.31,110.46 L409.64,111.88 L409.97,113.29 L410.30,114.70 L410.64,116.10 L410.98,117.51 L411.33,118.91 L411.69,120.31 L412.05,121.71 L412.42,123.10 L412.80,124.50 L413.19,125.93 L413.60,127.38 L414.01,128.85 L414.43,130.30 L414.85,131.70 L415.28,133.05 L415.70,134.30 L416.13,135.52 L416.54,136.61 L416.96,137.67 L417.44,138.77 L418.00,140.00 L418.54,141.13 L419.15,142.34 L419.82,143.61 L420.52,144.94 L421.26,146.29 L422.02,147.67 L422.79,149.04 L423.55,150.39 L424.30,151.70 L424.98,152.89 L425.66,154.09 L426.35,155.31 L427.05,156.52 L427.75,157.73 L428.46,158.92 L429.18,160.09 L429.91,161.24 L430.65,162.34 L431.40,163.40 L432.23,164.52 L433.06,165.61 L433.89,166.65 L434.74,167.67 L435.61,168.65 L436.50,169.62 L437.43,170.57 L438.40,171.50 L439.45,172.47 L440.55,173.43 L441.67,174.38 L442.83,175.31 L444.01,176.19 L445.22,177.03 L446.45,177.80 L447.70,178.50 L448.94,179.12 L450.22,179.68 L451.52,180.20 L452.84,180.66 L454.18,181.07 L455.52,181.43 L456.86,181.74 L458.20,182.00 L459.50,182.20 L460.79,182.33 L462.09,182.41 L463.40,182.44 L464.71,182.44 L466.03,182.41 L467.36,182.36 L468.70,182.30 L470.15,182.21 L471.62,182.08 L473.12,181.91 L474.62,181.72 L476.11,181.52 L477.58,181.31 L479.01,181.10 L480.40,180.90 L481.92,180.69 L483.35,180.49 L484.75,180.28 L486.17,180.05 L487.63,179.80 L489.20,179.50 L490.48,179.23 L491.81,178.94 L493.18,178.62 L494.59,178.28 L496.02,177.93 L497.48,177.56 L498.95,177.19 L500.44,176.82 L501.92,176.46 L503.40,176.10 L504.73,175.78 L506.06,175.46 L507.39,175.14 L508.73,174.82 L510.08,174.49 L511.44,174.17 L512.81,173.84 L514.20,173.51 L515.61,173.19 L517.05,172.86 L518.51,172.53 L520.00,172.20 L521.35,171.91 L522.73,171.61 L524.13,171.31 L525.56,171.00 L527.01,170.70 L528.47,170.39 L529.95,170.09 L531.44,169.78 L532.94,169.48 L534.44,169.18 L535.95,168.88 L537.45,168.59 L538.95,168.31 L540.44,168.03 L541.93,167.76 L543.40,167.50 L544.85,167.25 L546.31,167.00 L547.76,166.76 L549.22,166.53 L550.67,166.30 L552.13,166.07 L553.59,165.85 L555.04,165.63 L556.50,165.42 L557.95,165.21 L559.41,165.00 L560.87,164.80 L562.32,164.60 L563.78,164.40 L565.24,164.20 L566.70,164.00 L568.16,163.80 L569.62,163.60 L571.08,163.40 L572.54,163.21 L574.00,163.01 L575.46,162.82 L576.93,162.62 L578.39,162.44 L579.85,162.26 L581.32,162.08 L582.78,161.91 L584.24,161.75 L585.71,161.60 L587.17,161.45 L588.64,161.32 L590.10,161.20 L591.56,161.09 L593.02,160.99 L594.48,160.91 L595.95,160.83 L597.41,160.77 L598.87,160.71 L600.33,160.65 L601.80,160.61 L603.26,160.56 L604.72,160.53 L606.19,160.49 L607.65,160.45 L609.11,160.42 L610.58,160.38 L612.04,160.34 L613.50,160.30 L614.95,160.26 L616.37,160.22 L617.78,160.18 L619.17,160.14 L620.56,160.11 L621.94,160.08 L623.33,160.05 L624.73,160.02 L626.14,159.99 L627.57,159.96 L629.02,159.93 L630.50,159.91 L632.02,159.88 L633.57,159.85 L635.16,159.83 L636.80,159.80 L638.09,159.78 L639.41,159.76 L640.75,159.74 L642.12,159.72 L643.52,159.70 L644.94,159.68 L646.38,159.66 L647.84,159.64 L649.31,159.62 L650.80,159.61 L652.31,159.59 L653.83,159.57 L655.36,159.55 L656.90,159.54 L658.44,159.52 L660.00,159.50 L661.55,159.49 L663.11,159.47 L664.67,159.45 L666.23,159.44 L667.79,159.42 L669.35,159.40 L670.90,159.39 L672.44,159.37 L673.97,159.35 L675.49,159.34 L677.00,159.32 L678.50,159.30" fill="none" stroke="#ff00ff" stroke-width="1.6" clip-path="url(#cB)" stroke-linejoin="round" />
<path d="M394.80,13.50 L394.94,14.89 L395.07,16.29 L395.20,17.69 L395.33,19.09 L395.46,20.49 L395.58,21.89 L395.71,23.28 L395.84,24.68 L395.98,26.08 L396.11,27.47 L396.26,28.87 L396.41,30.25 L396.56,31.64 L396.73,33.02 L396.90,34.40 L397.09,35.84 L397.28,37.27 L397.48,38.68 L397.69,40.09 L397.89,41.50 L398.11,42.90 L398.33,44.30 L398.56,45.71 L398.79,47.13 L399.04,48.55 L399.29,49.99 L399.55,51.44 L399.82,52.91 L400.10,54.40 L400.36,55.73 L400.62,57.08 L400.90,58.47 L401.19,59.87 L401.49,61.29 L401.79,62.72 L402.10,64.16 L402.42,65.61 L402.74,67.05 L403.06,68.49 L403.39,69.92 L403.71,71.33 L404.04,72.73 L404.36,74.11 L404.68,75.46 L404.99,76.77 L405.30,78.06 L405.60,79.30 L405.99,80.88 L406.38,82.43 L406.78,83.95 L407.17,85.44 L407.56,86.90 L407.95,88.32 L408.33,89.72 L408.71,91.09 L409.08,92.42 L409.45,93.73 L409.80,95.00 L410.22,96.52 L410.61,97.97 L410.99,99.37 L411.37,100.73 L411.76,102.07 L412.17,103.42 L412.60,104.80 L413.01,106.04 L413.44,107.28 L413.88,108.52 L414.33,109.76 L414.79,111.00 L415.26,112.23 L415.73,113.47 L416.20,114.70 L416.67,115.93 L417.14,117.16 L417.62,118.39 L418.10,119.61 L418.58,120.84 L419.08,122.06 L419.58,123.28 L420.10,124.50 L420.66,125.77 L421.26,127.08 L421.88,128.41 L422.50,129.74 L423.11,131.02 L423.67,132.22 L424.18,133.33 L424.60,134.30 L425.03,135.41 L425.34,136.33 L425.80,137.50 L426.19,138.42 L426.64,139.50 L427.14,140.71 L427.70,142.02 L428.30,143.40 L428.94,144.83 L429.61,146.28 L430.31,147.72 L431.03,149.12 L431.76,150.46 L432.50,151.70 L433.24,152.86 L434.00,154.01 L434.79,155.15 L435.60,156.28 L436.43,157.38 L437.28,158.47 L438.16,159.52 L439.06,160.55 L439.99,161.54 L440.93,162.49 L441.90,163.40 L442.95,164.32 L444.03,165.19 L445.14,166.02 L446.27,166.82 L447.42,167.58 L448.60,168.32 L449.80,169.02 L451.02,169.70 L452.25,170.36 L453.50,171.00 L454.71,171.59 L455.94,172.16 L457.20,172.72 L458.49,173.25 L459.79,173.76 L461.09,174.24 L462.41,174.70 L463.72,175.12 L465.03,175.52 L466.32,175.88 L467.60,176.20 L469.06,176.52 L470.54,176.79 L472.04,177.02 L473.54,177.22 L475.01,177.37 L476.45,177.50 L477.84,177.59 L479.16,177.66 L480.40,177.70 L481.83,177.71 L483.12,177.65 L484.35,177.55 L485.62,177.43 L487.00,177.30 L488.22,177.19 L489.53,177.06 L490.89,176.92 L492.29,176.77 L493.68,176.62 L495.03,176.47 L496.31,176.33 L497.50,176.20 L499.03,176.06 L500.37,175.96 L501.76,175.83 L503.40,175.60 L504.48,175.41 L505.65,175.18 L506.90,174.92 L508.21,174.63 L509.58,174.31 L511.00,173.98 L512.46,173.63 L513.95,173.28 L515.45,172.92 L516.97,172.57 L518.49,172.23 L520.00,171.90 L521.35,171.61 L522.73,171.32 L524.14,171.02 L525.56,170.72 L527.01,170.42 L528.48,170.11 L529.95,169.80 L531.44,169.50 L532.94,169.19 L534.44,168.89 L535.95,168.59 L537.45,168.30 L538.95,168.01 L540.44,167.73 L541.93,167.46 L543.40,167.20 L544.85,166.95 L546.31,166.70 L547.76,166.46 L549.22,166.23 L550.67,166.00 L552.13,165.77 L553.59,165.55 L555.04,165.33 L556.50,165.12 L557.95,164.91 L559.41,164.70 L560.87,164.50 L562.32,164.30 L563.78,164.10 L565.24,163.90 L566.70,163.70 L568.16,163.50 L569.62,163.30 L571.08,163.10 L572.54,162.91 L574.00,162.71 L575.46,162.52 L576.93,162.32 L578.39,162.14 L579.85,161.96 L581.32,161.78 L582.78,161.61 L584.24,161.45 L585.71,161.30 L587.17,161.15 L588.64,161.02 L590.10,160.90 L591.56,160.79 L593.02,160.69 L594.48,160.61 L595.95,160.53 L597.41,160.47 L598.87,160.41 L600.33,160.35 L601.80,160.31 L603.26,160.26 L604.72,160.23 L606.19,160.19 L607.65,160.15 L609.11,160.12 L610.58,160.08 L612.04,160.04 L613.50,160.00 L614.95,159.96 L616.37,159.92 L617.78,159.88 L619.17,159.84 L620.56,159.81 L621.94,159.78 L623.33,159.75 L624.73,159.72 L626.14,159.69 L627.57,159.66 L629.02,159.63 L630.50,159.61 L632.02,159.58 L633.57,159.55 L635.16,159.53 L636.80,159.50 L638.09,159.48 L639.41,159.46 L640.75,159.44 L642.12,159.42 L643.52,159.40 L644.94,159.38 L646.38,159.36 L647.84,159.34 L649.31,159.32 L650.80,159.31 L652.31,159.29 L653.83,159.27 L655.36,159.25 L656.90,159.24 L658.44,159.22 L660.00,159.20 L661.55,159.19 L663.11,159.17 L664.67,159.15 L666.23,159.14 L667.79,159.12 L669.35,159.10 L670.90,159.09 L672.44,159.07 L673.97,159.05 L675.49,159.04 L677.00,159.02 L678.50,159.00" fill="none" stroke="#ff0000" stroke-width="1.5" stroke-dasharray="5,5" clip-path="url(#cB)" stroke-linejoin="round" />
<path d="M394.80,21.00 L394.92,22.47 L395.02,23.93 L395.12,25.37 L395.22,26.81 L395.33,28.27 L395.44,29.74 L395.57,31.25 L395.72,32.80 L395.90,34.40 L396.06,35.70 L396.23,37.03 L396.42,38.39 L396.61,39.76 L396.82,41.16 L397.04,42.58 L397.26,44.02 L397.49,45.47 L397.73,46.93 L397.96,48.41 L398.20,49.90 L398.44,51.39 L398.67,52.89 L398.90,54.40 L399.11,55.80 L399.32,57.24 L399.53,58.71 L399.74,60.20 L399.95,61.70 L400.17,63.22 L400.39,64.75 L400.60,66.28 L400.82,67.81 L401.05,69.33 L401.27,70.84 L401.50,72.32 L401.73,73.79 L401.97,75.22 L402.21,76.62 L402.45,77.98 L402.70,79.30 L403.02,80.88 L403.36,82.43 L403.71,83.95 L404.07,85.44 L404.44,86.89 L404.80,88.32 L405.16,89.71 L405.50,91.08 L405.82,92.42 L406.13,93.72 L406.40,95.00 L406.69,96.52 L406.95,97.96 L407.18,99.36 L407.39,100.72 L407.61,102.06 L407.84,103.42 L408.10,104.80 L408.39,106.21 L408.68,107.63 L408.99,109.05 L409.31,110.46 L409.64,111.88 L409.97,113.29 L410.30,114.70 L410.64,116.10 L410.98,117.51 L411.33,118.91 L411.69,120.31 L412.05,121.71 L412.42,123.10 L412.80,124.50 L413.19,125.93 L413.60,127.38 L414.01,128.85 L414.43,130.30 L414.85,131.70 L415.28,133.05 L415.70,134.30 L416.13,135.52 L416.54,136.61 L416.96,137.67 L417.44,138.77 L418.00,140.00 L418.54,141.13 L419.15,142.34 L419.82,143.61 L420.52,144.94 L421.26,146.29 L422.02,147.67 L422.79,149.04 L423.55,150.39 L424.30,151.70 L424.98,152.89 L425.66,154.09 L426.35,155.31 L427.05,156.52 L427.75,157.73 L428.46,158.92 L429.18,160.09 L429.91,161.24 L430.65,162.34 L431.40,163.40 L432.23,164.52 L433.06,165.61 L433.89,166.65 L434.74,167.67 L435.61,168.65 L436.50,169.62 L437.43,170.57 L438.40,171.50 L439.45,172.47 L440.55,173.43 L441.67,174.38 L442.83,175.31 L444.01,176.19 L445.22,177.03 L446.45,177.80 L447.70,178.50 L448.94,179.12 L450.22,179.68 L451.52,180.19 L452.84,180.65 L454.18,181.06 L455.52,181.42 L456.86,181.73 L458.20,182.00 L459.50,182.20 L460.79,182.32 L462.09,182.39 L463.40,182.42 L464.71,182.42 L466.03,182.40 L467.36,182.39 L468.70,182.40 L470.14,182.41 L471.62,182.42 L473.11,182.41 L474.61,182.40 L476.11,182.38 L477.58,182.36 L479.01,182.33 L480.40,182.30 L481.91,182.26 L483.35,182.20 L484.75,182.15 L486.16,182.09 L487.63,182.04 L489.20,182.00 L490.47,181.98 L491.77,181.97 L493.10,181.96 L494.47,181.96 L495.87,181.96 L497.31,181.96 L498.78,181.97 L500.28,181.98 L501.82,181.99 L503.40,182.00 L504.69,182.01 L506.01,182.02 L507.35,182.04 L508.72,182.05 L510.12,182.07 L511.53,182.09 L512.97,182.11 L514.43,182.14 L515.91,182.16 L517.41,182.18 L518.92,182.20 L520.45,182.23 L521.99,182.25 L523.55,182.27 L525.12,182.28 L526.70,182.30 L528.02,182.31 L529.35,182.32 L530.68,182.33 L532.02,182.34 L533.36,182.35 L534.72,182.36 L536.08,182.37 L537.46,182.38 L538.85,182.39 L540.25,182.40 L541.66,182.41 L543.09,182.41 L544.53,182.42 L545.99,182.43 L547.46,182.44 L548.96,182.44 L550.47,182.45 L552.00,182.46 L553.56,182.47 L555.13,182.47 L556.73,182.48 L558.35,182.49 L560.00,182.50 L561.26,182.51 L562.54,182.51 L563.84,182.52 L565.16,182.53 L566.50,182.54 L567.85,182.54 L569.22,182.55 L570.61,182.56 L572.01,182.57 L573.43,182.58 L574.86,182.58 L576.30,182.59 L577.75,182.60 L579.22,182.61 L580.69,182.62 L582.18,182.62 L583.67,182.63 L585.17,182.64 L586.68,182.65 L588.19,182.66 L589.71,182.66 L591.24,182.67 L592.76,182.68 L594.29,182.69 L595.83,182.70 L597.36,182.70 L598.90,182.71 L600.43,182.72 L601.96,182.73 L603.50,182.73 L605.02,182.74 L606.55,182.75 L608.07,182.75 L609.59,182.76 L611.10,182.77 L612.60,182.77 L614.10,182.78 L615.59,182.78 L617.07,182.79 L618.54,182.79 L620.00,182.80 L621.47,182.80 L622.94,182.81 L624.41,182.81 L625.88,182.82 L627.35,182.82 L628.82,182.83 L630.28,182.83 L631.75,182.83 L633.21,182.84 L634.68,182.84 L636.14,182.84 L637.60,182.84 L639.07,182.85 L640.53,182.85 L641.99,182.85 L643.45,182.85 L644.91,182.86 L646.38,182.86 L647.84,182.86 L649.30,182.86 L650.76,182.86 L652.22,182.87 L653.68,182.87 L655.14,182.87 L656.60,182.87 L658.05,182.87 L659.51,182.87 L660.97,182.88 L662.43,182.88 L663.89,182.88 L665.35,182.88 L666.81,182.88 L668.27,182.88 L669.73,182.89 L671.19,182.89 L672.65,182.89 L674.11,182.89 L675.58,182.90 L677.04,182.90 L678.50,182.90" fill="none" stroke="#000000" stroke-width="1.5" stroke-dasharray="5,5" clip-path="url(#cB)" stroke-linejoin="round" />
<line x1="394.70" y1="6.50" x2="677.80" y2="6.50" stroke="#262626" stroke-width="1.3"/>
<line x1="677.80" y1="6.50" x2="677.80" y2="213.00" stroke="#4a4a4a" stroke-width="1.9"/>
<line x1="394.70" y1="6.50" x2="394.70" y2="213.90" stroke="#7e7e7e" stroke-width="1.9"/>
<line x1="393.80" y1="213.00" x2="678.70" y2="213.00" stroke="#7e7e7e" stroke-width="1.9"/>
<path d="M411.35,213.00L411.35,209.20 M411.35,6.50L411.35,10.30 M477.96,213.00L477.96,209.20 M477.96,6.50L477.96,10.30 M544.58,213.00L544.58,209.20 M544.58,6.50L544.58,10.30 M611.19,213.00L611.19,209.20 M611.19,6.50L611.19,10.30 M677.80,213.00L677.80,209.20 M677.80,6.50L677.80,10.30 M444.66,213.00L444.66,210.60 M444.66,6.50L444.66,8.90 M511.27,213.00L511.27,210.60 M511.27,6.50L511.27,8.90 M577.88,213.00L577.88,210.60 M577.88,6.50L577.88,8.90 M644.49,213.00L644.49,210.60 M644.49,6.50L644.49,8.90 M394.70,200.85L398.50,200.85 M677.80,200.85L674.00,200.85 M394.70,152.26L398.50,152.26 M677.80,152.26L674.00,152.26 M394.70,103.68L398.50,103.68 M677.80,103.68L674.00,103.68 M394.70,55.09L398.50,55.09 M677.80,55.09L674.00,55.09 M394.70,6.50L398.50,6.50 M677.80,6.50L674.00,6.50 M394.70,176.56L397.10,176.56 M677.80,176.56L675.40,176.56 M394.70,127.97L397.10,127.97 M677.80,127.97L675.40,127.97 M394.70,79.38L397.10,79.38 M677.80,79.38L675.40,79.38 M394.70,30.79L397.10,30.79 M677.80,30.79L675.40,30.79" stroke="#333" stroke-width="1.0" fill="none"/>
<text x="411.35" y="226.80" font-size="10.5" font-weight="bold" font-style="normal" text-anchor="middle" fill="#000" >2</text>
<text x="477.96" y="226.80" font-size="10.5" font-weight="bold" font-style="normal" text-anchor="middle" fill="#000" >4</text>
<text x="544.58" y="226.80" font-size="10.5" font-weight="bold" font-style="normal" text-anchor="middle" fill="#000" >6</text>
<text x="611.19" y="226.80" font-size="10.5" font-weight="bold" font-style="normal" text-anchor="middle" fill="#000" >8</text>
<text x="677.80" y="226.80" font-size="10.5" font-weight="bold" font-style="normal" text-anchor="middle" fill="#000" >10</text>
<text x="389.40" y="204.25" font-size="10.5" font-weight="bold" font-style="normal" text-anchor="end" fill="#000" >-4</text>
<text x="389.40" y="155.66" font-size="10.5" font-weight="bold" font-style="normal" text-anchor="end" fill="#000" >0</text>
<text x="389.40" y="107.08" font-size="10.5" font-weight="bold" font-style="normal" text-anchor="end" fill="#000" >4</text>
<text x="389.40" y="58.49" font-size="10.5" font-weight="bold" font-style="normal" text-anchor="end" fill="#000" >8</text>
<text x="389.20" y="9.70" font-size="11.2" font-weight="bold" font-style="normal" text-anchor="end" fill="#000" >12</text>
<text x="0" y="0" font-size="11" text-anchor="middle" fill="#111" transform="translate(370.30,110.30) rotate(-90)">Energy (eV)</text>
<text x="507.30" y="243.90" font-size="10.6" fill="#111">R</text>
<text x="513.90" y="244.20" font-size="5" fill="#3a3f4a">Ne-HH</text>
<text x="532.60" y="243.90" font-size="11.4" fill="#111">(bohr)</text>
<text x="645.40" y="20.60" font-size="10.8" font-weight="normal" font-style="normal" text-anchor="start" fill="#1a1a1a" >(b)</text>
<line x1="489.20" y1="181.50" x2="489.20" y2="210.50" stroke="#1f8a1f" stroke-width="1.6" stroke-dasharray="1.5,1.5"/>
<text x="515.40" y="179.60" font-size="10.1" font-weight="bold" font-style="italic" text-anchor="start" fill="#111" >cross point</text>
<rect x="460.9" y="45.4" width="91.7" height="71.7" fill="#fff"/>
<path d="M460.80,64.90 L462.04,65.62 L463.27,66.34 L464.51,67.07 L465.74,67.79 L466.97,68.52 L468.21,69.23 L469.46,69.94 L470.72,70.63 L472.00,71.30 L473.32,71.96 L474.64,72.60 L475.98,73.22 L477.33,73.84 L478.68,74.44 L480.05,75.04 L481.42,75.65 L482.81,76.27 L484.20,76.90 L485.42,77.46 L486.65,78.04 L487.88,78.63 L489.13,79.22 L490.37,79.81 L491.63,80.40 L492.89,80.99 L494.16,81.56 L495.44,82.13 L496.72,82.67 L498.00,83.20 L499.30,83.72 L500.61,84.22 L501.92,84.71 L503.23,85.20 L504.55,85.67 L505.88,86.13 L507.22,86.58 L508.57,87.03 L509.93,87.46 L511.31,87.88 L512.70,88.30 L514.08,88.70 L515.46,89.09 L516.85,89.47 L518.25,89.85 L519.66,90.21 L521.09,90.57 L522.53,90.91 L523.98,91.25 L525.46,91.58 L526.95,91.89 L528.46,92.20 L530.00,92.50 L531.33,92.74 L532.68,92.97 L534.05,93.19 L535.45,93.40 L536.85,93.60 L538.27,93.79 L539.71,93.98 L541.15,94.16 L542.59,94.34 L544.04,94.52 L545.50,94.69 L546.95,94.87 L548.40,95.04 L549.84,95.22 L551.28,95.41 L552.70,95.60" fill="none" stroke="#0000ff" stroke-width="0.9" clip-path="url(#iB)" stroke-linejoin="round" />
<path d="M460.80,100.00 L462.24,100.03 L463.68,100.06 L465.11,100.09 L466.55,100.11 L468.00,100.10 L469.45,100.09 L470.88,100.08 L472.32,100.05 L473.82,99.97 L475.40,99.80 L476.73,99.60 L478.13,99.34 L479.57,99.04 L481.04,98.71 L482.54,98.35 L484.04,97.97 L485.53,97.58 L487.00,97.20 L488.31,96.86 L489.61,96.51 L490.90,96.15 L492.20,95.78 L493.50,95.39 L494.81,95.00 L496.12,94.58 L497.45,94.15 L498.80,93.70 L500.16,93.23 L501.55,92.74 L502.96,92.24 L504.38,91.72 L505.80,91.18 L507.22,90.63 L508.63,90.06 L510.02,89.48 L511.38,88.90 L512.70,88.30 L514.02,87.67 L515.32,87.03 L516.59,86.37 L517.84,85.69 L519.07,85.01 L520.30,84.32 L521.53,83.62 L522.76,82.91 L524.00,82.20 L525.25,81.47 L526.47,80.73 L527.67,79.98 L528.88,79.23 L530.10,78.47 L531.33,77.70 L532.60,76.93 L533.92,76.16 L535.30,75.40 L536.50,74.76 L537.75,74.12 L539.04,73.47 L540.35,72.83 L541.70,72.18 L543.06,71.54 L544.44,70.89 L545.82,70.24 L547.21,69.59 L548.60,68.94 L549.98,68.29 L551.35,67.65 L552.70,67.00" fill="none" stroke="#ff00ff" stroke-width="1.2" clip-path="url(#iB)" stroke-linejoin="round" />
<path d="M461.20,65.20 L462.51,65.95 L463.83,66.71 L465.14,67.49 L466.46,68.28 L467.78,69.07 L469.10,69.85 L470.42,70.62 L471.73,71.37 L473.03,72.08 L474.33,72.77 L475.62,73.41 L476.90,74.00 L478.24,74.58 L479.57,75.13 L480.89,75.64 L482.21,76.13 L483.52,76.58 L484.82,77.00 L486.12,77.40 L487.42,77.76 L488.71,78.10 L490.00,78.40 L491.48,78.71 L492.93,78.99 L494.38,79.22 L495.83,79.41 L497.27,79.56 L498.73,79.68 L500.20,79.76 L501.70,79.80 L503.14,79.81 L504.60,79.78 L506.08,79.71 L507.57,79.61 L509.06,79.49 L510.56,79.33 L512.05,79.14 L513.53,78.93 L515.00,78.70 L516.46,78.43 L517.92,78.13 L519.38,77.79 L520.84,77.43 L522.29,77.04 L523.73,76.64 L525.16,76.23 L526.59,75.82 L528.00,75.40 L529.36,75.00 L530.71,74.59 L532.04,74.17 L533.37,73.74 L534.69,73.30 L536.01,72.85 L537.33,72.38 L538.66,71.90 L540.00,71.40 L541.26,70.91 L542.53,70.40 L543.80,69.87 L545.07,69.33 L546.34,68.78 L547.61,68.22 L548.88,67.66 L550.16,67.10 L551.43,66.55 L552.70,66.00" fill="none" stroke="#ff0000" stroke-width="1.4" stroke-dasharray="3.5,3" clip-path="url(#iB)" stroke-linejoin="round" />
<path d="M460.80,101.40 L462.26,101.55 L463.71,101.73 L465.15,101.90 L466.61,102.06 L468.09,102.16 L469.60,102.20 L471.01,102.17 L472.42,102.08 L473.84,101.94 L475.29,101.78 L476.78,101.59 L478.35,101.39 L480.00,101.20 L481.27,101.05 L482.61,100.88 L484.00,100.70 L485.44,100.51 L486.92,100.30 L488.42,100.10 L489.94,99.89 L491.46,99.68 L492.98,99.48 L494.48,99.29 L495.96,99.11 L497.40,98.94 L498.80,98.80 L500.24,98.67 L501.67,98.55 L503.07,98.44 L504.47,98.34 L505.85,98.24 L507.22,98.16 L508.58,98.08 L509.94,98.01 L511.29,97.94 L512.65,97.87 L514.00,97.80 L515.41,97.73 L516.77,97.67 L518.12,97.61 L519.45,97.56 L520.79,97.51 L522.14,97.46 L523.53,97.42 L524.96,97.38 L526.44,97.34 L528.00,97.30 L529.27,97.27 L530.59,97.25 L531.94,97.22 L533.33,97.20 L534.75,97.18 L536.20,97.16 L537.67,97.15 L539.16,97.13 L540.67,97.12 L542.18,97.10 L543.70,97.09 L545.22,97.08 L546.74,97.06 L548.25,97.05 L549.75,97.03 L551.24,97.02 L552.70,97.00" fill="none" stroke="#000000" stroke-width="1.1" stroke-dasharray="3,3" clip-path="url(#iB)" stroke-linejoin="round" />
<rect x="460.90" y="45.40" width="91.70" height="71.70" fill="none" stroke="#444" stroke-width="1.0"/>
<line x1="460.90" y1="45.40" x2="460.90" y2="117.10" stroke="#8a8a8a" stroke-width="1.7"/>
<line x1="460.90" y1="117.10" x2="552.60" y2="117.10" stroke="#8a8a8a" stroke-width="1.7"/>
<path d="M460.90,117.10L460.90,114.90 M460.90,45.40L460.90,47.60 M491.47,117.10L491.47,114.90 M491.47,45.40L491.47,47.60 M522.03,117.10L522.03,114.90 M522.03,45.40L522.03,47.60 M552.60,117.10L552.60,114.90 M552.60,45.40L552.60,47.60 M476.18,117.10L476.18,115.80 M476.18,45.40L476.18,46.70 M506.75,117.10L506.75,115.80 M506.75,45.40L506.75,46.70 M537.32,117.10L537.32,115.80 M537.32,45.40L537.32,46.70 M460.90,45.40L463.10,45.40 M552.60,45.40L550.40,45.40 M460.90,72.98L463.10,72.98 M552.60,72.98L550.40,72.98 M460.90,100.55L463.10,100.55 M552.60,100.55L550.40,100.55 M460.90,59.19L462.20,59.19 M552.60,59.19L551.30,59.19 M460.90,86.77L462.20,86.77 M552.60,86.77L551.30,86.77 M460.90,114.34L462.20,114.34 M552.60,114.34L551.30,114.34" stroke="#555" stroke-width="0.8" fill="none"/>
<text x="460.90" y="123.40" font-size="6.2" font-weight="bold" font-style="normal" text-anchor="middle" fill="#000" >3.5</text>
<text x="491.47" y="123.40" font-size="6.2" font-weight="bold" font-style="normal" text-anchor="middle" fill="#000" >4.0</text>
<text x="522.03" y="123.40" font-size="6.2" font-weight="bold" font-style="normal" text-anchor="middle" fill="#000" >4.5</text>
<text x="552.60" y="123.40" font-size="6.2" font-weight="bold" font-style="normal" text-anchor="middle" fill="#000" >5.0</text>
<text x="459.30" y="47.60" font-size="6.2" font-weight="bold" font-style="normal" text-anchor="end" fill="#000" >-1.5</text>
<text x="459.30" y="75.18" font-size="6.2" font-weight="bold" font-style="normal" text-anchor="end" fill="#000" >-2.0</text>
<text x="459.30" y="102.75" font-size="6.2" font-weight="bold" font-style="normal" text-anchor="end" fill="#000" >-2.5</text>
<text x="0" y="0" font-size="7.2" text-anchor="middle" fill="#222" transform="translate(445.20,81.40) rotate(-90)">Energy (eV)</text>
<text x="484.00" y="135.20" font-size="7" fill="#222">R</text>
<text x="488.60" y="135.40" font-size="3.6" fill="#4a505c">Ne-HH</text>
<text x="522.70" y="135.20" font-size="7.4" fill="#222" text-anchor="end">(bohr)</text>
<path d="M33.80,270.97 L33.91,272.43 L34.02,273.89 L34.12,275.35 L34.23,276.80 L34.33,278.26 L34.43,279.72 L34.54,281.17 L34.65,282.63 L34.76,284.09 L34.88,285.55 L35.01,287.02 L35.15,288.49 L35.30,289.96 L35.45,291.39 L35.61,292.87 L35.79,294.38 L35.96,295.90 L36.15,297.44 L36.34,298.97 L36.53,300.49 L36.73,301.99 L36.93,303.46 L37.13,304.89 L37.32,306.26 L37.52,307.56 L37.71,308.79 L37.89,309.93 L38.15,311.40 L38.40,312.65 L38.65,313.81 L38.91,314.98 L39.18,316.28 L39.49,317.82 L39.70,318.90 L39.91,320.06 L40.13,321.29 L40.37,322.60 L40.61,323.96 L40.86,325.39 L41.12,326.85 L41.38,328.36 L41.65,329.90 L41.92,331.46 L42.20,333.03 L42.48,334.61 L42.77,336.20 L43.05,337.77 L43.34,339.33 L43.62,340.86 L43.91,342.36 L44.19,343.82 L44.48,345.28 L44.78,346.77 L45.08,348.28 L45.40,349.81 L45.71,351.35 L46.04,352.90 L46.36,354.45 L46.68,355.99 L47.01,357.52 L47.33,359.03 L47.65,360.51 L47.97,361.97 L48.28,363.39 L48.58,364.76 L48.87,366.09 L49.16,367.36 L49.43,368.57 L49.69,369.71 L50.03,371.20 L50.33,372.55 L50.61,373.79 L50.88,374.98 L51.16,376.14 L51.46,377.32 L51.80,378.55 L52.18,379.89 L52.54,381.08 L52.92,382.32 L53.32,383.59 L53.74,384.89 L54.18,386.21 L54.63,387.55 L55.10,388.89 L55.59,390.24 L56.09,391.59 L56.60,392.92 L57.13,394.25 L57.67,395.54 L58.24,396.87 L58.83,398.21 L59.43,399.55 L60.05,400.89 L60.68,402.22 L61.33,403.55 L62.00,404.87 L62.68,406.18 L63.37,407.46 L64.08,408.73 L64.81,409.97 L65.54,411.19 L66.31,412.43 L67.10,413.66 L67.89,414.89 L68.70,416.10 L69.53,417.28 L70.37,418.44 L71.23,419.58 L72.11,420.67 L73.01,421.73 L73.93,422.75 L74.88,423.72 L75.86,424.66 L76.84,425.57 L77.82,426.43 L78.82,427.26 L79.85,428.05 L80.91,428.81 L82.03,429.53 L83.20,430.23 L84.44,430.90 L85.77,431.54 L86.89,432.02 L88.10,432.49 L89.40,432.94 L90.76,433.38 L92.18,433.79 L93.64,434.19 L95.13,434.57 L96.65,434.93 L98.17,435.27 L99.69,435.59 L101.19,435.89 L102.67,436.16 L104.11,436.42 L105.50,436.65 L106.83,436.86 L108.08,437.04 L109.25,437.20 L110.78,437.38 L112.21,437.49 L113.57,437.55 L114.87,437.56 L116.15,437.56 L117.41,437.53 L118.69,437.51 L120.00,437.50 L121.45,437.49 L122.88,437.48 L124.30,437.45 L125.72,437.41 L127.14,437.35 L128.55,437.29 L129.97,437.20 L131.40,437.10 L132.82,436.97 L134.25,436.83 L135.67,436.68 L137.10,436.52 L138.53,436.36 L139.96,436.20 L141.40,436.05 L142.85,435.89 L144.31,435.73 L145.76,435.56 L147.19,435.39 L148.59,435.20 L149.94,435.00 L151.23,434.80 L152.40,434.60 L153.55,434.39 L154.75,434.15 L156.07,433.86 L157.61,433.51 L158.61,433.27 L159.68,432.99 L160.84,432.68 L162.05,432.35 L163.33,431.99 L164.66,431.61 L166.04,431.21 L167.47,430.79 L168.92,430.37 L170.41,429.93 L171.91,429.49 L173.43,429.05 L174.96,428.61 L176.50,428.17 L178.03,427.74 L179.55,427.32 L181.05,426.92 L182.54,426.53 L183.99,426.16 L185.41,425.81 L186.87,425.46 L188.37,425.12 L189.87,424.78 L191.40,424.44 L192.93,424.10 L194.47,423.78 L196.01,423.45 L197.55,423.13 L199.08,422.82 L200.60,422.52 L202.11,422.22 L203.60,421.93 L205.06,421.65 L206.50,421.39 L207.91,421.13 L209.28,420.88 L210.61,420.64 L211.89,420.42 L213.13,420.21 L214.69,419.94 L216.14,419.70 L217.50,419.49 L218.80,419.29 L220.08,419.10 L221.36,418.93 L222.67,418.76 L224.04,418.61 L225.50,418.45 L227.06,418.30 L228.30,418.19 L229.58,418.09 L230.91,417.99 L232.28,417.90 L233.68,417.81 L235.12,417.73 L236.58,417.65 L238.07,417.58 L239.57,417.50 L241.09,417.44 L242.63,417.37 L244.17,417.31 L245.71,417.25 L247.25,417.19 L248.78,417.13 L250.31,417.07 L251.82,417.01 L253.31,416.96 L254.78,416.90 L256.24,416.84 L257.70,416.79 L259.14,416.74 L260.59,416.70 L262.03,416.65 L263.47,416.61 L264.91,416.57 L266.35,416.53 L267.79,416.50 L269.24,416.46 L270.69,416.43 L272.14,416.39 L273.61,416.35 L275.08,416.31 L276.56,416.28 L278.04,416.24 L279.55,416.19 L281.06,416.15 L282.59,416.10 L283.99,416.05 L285.41,416.01 L286.84,415.96 L288.28,415.91 L289.73,415.86 L291.19,415.81 L292.66,415.76 L294.13,415.71 L295.61,415.65 L297.09,415.60 L298.58,415.55 L300.07,415.49 L301.57,415.44 L303.06,415.39 L304.56,415.33 L306.06,415.28 L307.56,415.22 L309.05,415.17 L310.55,415.11 L312.04,415.06 L313.53,415.01 L315.01,414.95 L316.49,414.90" fill="none" stroke="#ff0000" stroke-width="1.8" stroke-dasharray="6,5" clip-path="url(#cC)" stroke-linejoin="round" />
<path d="M32.90,284.02 L32.96,285.48 L33.02,286.99 L33.07,288.52 L33.12,290.08 L33.17,291.66 L33.22,293.24 L33.28,294.82 L33.33,296.40 L33.38,297.96 L33.43,299.49 L33.49,301.00 L33.55,302.47 L33.61,303.89 L33.68,305.26 L33.75,306.56 L33.83,307.80 L33.91,308.96 L34.00,310.04 L34.16,311.58 L34.32,312.86 L34.49,314.01 L34.68,315.16 L34.88,316.43 L35.10,317.96 L35.25,319.03 L35.41,320.18 L35.58,321.42 L35.76,322.72 L35.95,324.09 L36.14,325.51 L36.34,326.98 L36.55,328.48 L36.76,330.02 L36.97,331.58 L37.19,333.15 L37.40,334.74 L37.62,336.32 L37.84,337.89 L38.06,339.45 L38.28,340.99 L38.49,342.49 L38.70,343.96 L38.91,345.40 L39.11,346.84 L39.31,348.28 L39.50,349.72 L39.70,351.16 L39.89,352.60 L40.09,354.04 L40.28,355.48 L40.48,356.92 L40.69,358.37 L40.90,359.81 L41.11,361.25 L41.34,362.69 L41.57,364.13 L41.81,365.57 L42.06,367.00 L42.33,368.44 L42.61,369.88 L42.90,371.34 L43.21,372.81 L43.54,374.29 L43.87,375.79 L44.22,377.29 L44.57,378.79 L44.94,380.29 L45.30,381.79 L45.68,383.28 L46.05,384.75 L46.43,386.22 L46.81,387.67 L47.19,389.09 L47.57,390.50 L47.94,391.87 L48.30,393.22 L48.66,394.53 L49.01,395.81 L49.46,397.40 L49.91,398.94 L50.35,400.44 L50.80,401.90 L51.24,403.33 L51.68,404.73 L52.12,406.11 L52.55,407.47 L52.98,408.83 L53.40,410.17 L53.82,411.52 L54.26,412.99 L54.69,414.47 L55.11,415.93 L55.52,417.38 L55.94,418.81 L56.36,420.21 L56.80,421.57 L57.25,422.89 L57.73,424.15 L58.32,425.59 L58.91,426.93 L59.51,428.21 L60.16,429.47 L60.87,430.76 L61.66,432.10 L62.31,433.17 L63.00,434.29 L63.75,435.45 L64.52,436.62 L65.33,437.79 L66.16,438.96 L67.01,440.09 L67.88,441.18 L68.74,442.22 L69.61,443.17 L70.65,444.26 L71.69,445.31 L72.75,446.29 L73.84,447.22 L74.99,448.08 L76.21,448.86 L77.52,449.56 L78.76,450.11 L80.07,450.61 L81.44,451.05 L82.85,451.43 L84.30,451.75 L85.78,452.01 L87.28,452.20 L88.79,452.33 L90.29,452.40 L91.70,452.38 L93.17,452.26 L94.68,452.07 L96.21,451.82 L97.75,451.52 L99.28,451.19 L100.77,450.85 L102.22,450.50 L103.60,450.16 L104.89,449.86 L106.09,449.59 L107.64,449.24 L109.01,448.91 L110.30,448.57 L111.62,448.24 L113.09,447.89 L114.28,447.63 L115.53,447.36 L116.84,447.08 L118.19,446.81 L119.56,446.53 L120.95,446.24 L122.34,445.96 L123.73,445.67 L125.08,445.39 L126.44,445.10 L127.79,444.79 L129.13,444.48 L130.48,444.17 L131.83,443.87 L133.18,443.57 L134.54,443.29 L135.90,443.03 L137.26,442.79 L138.64,442.58 L139.99,442.38 L141.33,442.20 L142.67,442.04 L144.04,441.89 L145.44,441.75 L146.89,441.62 L148.42,441.51 L150.03,441.40 L151.25,441.33 L152.50,441.27 L153.76,441.22 L155.04,441.18 L156.34,441.14 L157.67,441.11 L159.04,441.09 L160.43,441.08 L161.87,441.06 L163.34,441.05 L164.85,441.05 L166.41,441.04 L168.02,441.04 L169.68,441.03 L171.40,441.02 L173.17,441.01 L175.00,441.00 L176.10,440.99 L177.22,440.98 L178.37,440.98 L179.56,440.97 L180.77,440.96 L182.01,440.96 L183.28,440.96 L184.57,440.95 L185.89,440.95 L187.23,440.94 L188.59,440.94 L189.98,440.94 L191.38,440.94 L192.81,440.94 L194.25,440.94 L195.71,440.94 L197.19,440.93 L198.68,440.94 L200.19,440.94 L201.71,440.94 L203.24,440.94 L204.79,440.94 L206.34,440.94 L207.91,440.94 L209.48,440.94 L211.06,440.95 L212.65,440.95 L214.24,440.95 L215.83,440.95 L217.43,440.96 L219.04,440.96 L220.64,440.96 L222.24,440.96 L223.84,440.97 L225.45,440.97 L227.04,440.97 L228.64,440.98 L230.23,440.98 L231.81,440.98 L233.39,440.98 L234.96,440.99 L236.52,440.99 L238.07,440.99 L239.61,440.99 L241.14,440.99 L242.65,441.00 L244.15,441.00 L245.64,441.00 L247.11,441.00 L248.56,441.00 L250.00,441.00 L251.52,441.00 L253.04,441.00 L254.55,441.00 L256.06,441.00 L257.56,441.00 L259.07,441.00 L260.57,441.00 L262.06,441.00 L263.56,441.00 L265.05,441.00 L266.53,441.00 L268.02,441.00 L269.50,441.00 L270.98,441.00 L272.46,441.00 L273.94,441.00 L275.41,441.00 L276.89,441.00 L278.36,441.00 L279.83,441.00 L281.30,441.00 L282.77,441.00 L284.23,441.00 L285.70,441.00 L287.16,441.00 L288.63,441.00 L290.09,441.00 L291.56,441.00 L293.02,441.00 L294.48,441.00 L295.94,441.00 L297.41,441.00 L298.87,441.00 L300.33,441.00 L301.80,441.00 L303.26,441.00 L304.73,441.00 L306.20,441.00 L307.66,441.00 L309.13,441.00 L310.60,441.00 L312.07,441.00 L313.55,441.00 L315.02,441.00 L316.50,441.00" fill="none" stroke="#000000" stroke-width="1.8" stroke-dasharray="6,5" clip-path="url(#cC)" stroke-linejoin="round" />
<path d="M33.40,271.00 L33.51,272.46 L33.62,273.92 L33.73,275.38 L33.83,276.83 L33.93,278.29 L34.03,279.74 L34.14,281.20 L34.25,282.66 L34.36,284.12 L34.48,285.59 L34.61,287.05 L34.75,288.52 L34.90,290.00 L35.05,291.44 L35.22,292.91 L35.39,294.42 L35.57,295.95 L35.75,297.49 L35.94,299.02 L36.14,300.55 L36.34,302.05 L36.53,303.52 L36.73,304.94 L36.93,306.31 L37.12,307.62 L37.31,308.85 L37.50,310.00 L37.76,311.48 L38.01,312.74 L38.26,313.89 L38.52,315.06 L38.79,316.36 L39.10,317.90 L39.30,318.97 L39.52,320.13 L39.74,321.36 L39.97,322.67 L40.22,324.03 L40.47,325.46 L40.72,326.92 L40.99,328.43 L41.26,329.97 L41.53,331.53 L41.81,333.10 L42.09,334.68 L42.37,336.27 L42.66,337.84 L42.94,339.40 L43.23,340.93 L43.52,342.44 L43.80,343.90 L44.09,345.36 L44.39,346.85 L44.69,348.36 L45.00,349.89 L45.32,351.44 L45.64,352.98 L45.97,354.53 L46.29,356.07 L46.62,357.60 L46.94,359.11 L47.26,360.60 L47.58,362.05 L47.89,363.47 L48.19,364.85 L48.48,366.17 L48.77,367.45 L49.04,368.66 L49.30,369.80 L49.64,371.29 L49.94,372.63 L50.22,373.88 L50.49,375.07 L50.77,376.24 L51.08,377.42 L51.41,378.66 L51.80,380.00 L52.16,381.20 L52.54,382.44 L52.94,383.71 L53.36,385.01 L53.80,386.34 L54.25,387.68 L54.72,389.03 L55.21,390.38 L55.71,391.73 L56.23,393.07 L56.76,394.40 L57.30,395.70 L57.87,397.03 L58.46,398.37 L59.07,399.71 L59.69,401.06 L60.32,402.40 L60.98,403.73 L61.64,405.05 L62.33,406.36 L63.02,407.66 L63.74,408.93 L64.46,410.18 L65.20,411.40 L65.97,412.64 L66.76,413.88 L67.56,415.11 L68.37,416.32 L69.20,417.51 L70.05,418.68 L70.92,419.82 L71.80,420.93 L72.71,422.00 L73.64,423.02 L74.60,424.00 L75.61,424.96 L76.65,425.88 L77.71,426.76 L78.80,427.61 L79.91,428.42 L81.03,429.19 L82.17,429.93 L83.31,430.62 L84.45,431.28 L85.60,431.90 L86.93,432.56 L88.27,433.14 L89.63,433.67 L90.99,434.15 L92.37,434.60 L93.76,435.01 L95.17,435.41 L96.60,435.80 L97.96,436.15 L99.34,436.47 L100.75,436.77 L102.17,437.05 L103.60,437.31 L105.03,437.55 L106.44,437.78 L107.83,437.99 L109.20,438.20 L110.57,438.40 L111.89,438.57 L113.20,438.72 L114.49,438.87 L115.80,439.00 L117.14,439.13 L118.53,439.26 L120.00,439.40 L121.29,439.52 L122.62,439.65 L123.98,439.79 L125.38,439.92 L126.80,440.05 L128.25,440.18 L129.72,440.31 L131.20,440.42 L132.70,440.53 L134.20,440.64 L135.70,440.72 L137.20,440.80 L138.60,440.86 L140.01,440.90 L141.42,440.94 L142.83,440.96 L144.26,440.98 L145.69,440.99 L147.14,440.99 L148.60,440.99 L150.07,440.99 L151.56,440.99 L153.07,440.99 L154.59,440.99 L156.14,440.99 L157.70,441.00 L159.05,441.01 L160.39,441.02 L161.73,441.02 L163.07,441.03 L164.42,441.04 L165.77,441.04 L167.14,441.05 L168.52,441.06 L169.91,441.06 L171.33,441.07 L172.76,441.07 L174.23,441.08 L175.72,441.08 L177.25,441.08 L178.82,441.09 L180.42,441.09 L182.07,441.09 L183.76,441.10 L185.50,441.10 L186.68,441.10 L187.88,441.10 L189.10,441.11 L190.36,441.11 L191.63,441.11 L192.93,441.11 L194.25,441.11 L195.59,441.11 L196.95,441.11 L198.32,441.11 L199.72,441.11 L201.13,441.11 L202.57,441.11 L204.01,441.11 L205.47,441.11 L206.94,441.11 L208.43,441.11 L209.93,441.11 L211.44,441.11 L212.95,441.11 L214.48,441.11 L216.02,441.11 L217.56,441.11 L219.11,441.11 L220.66,441.11 L222.22,441.11 L223.78,441.11 L225.35,441.11 L226.91,441.11 L228.48,441.11 L230.05,441.11 L231.61,441.10 L233.18,441.10 L234.74,441.10 L236.30,441.10 L237.85,441.10 L239.40,441.10 L240.94,441.10 L242.47,441.10 L244.00,441.10 L245.52,441.10 L247.02,441.10 L248.52,441.10 L250.00,441.10 L251.47,441.10 L252.93,441.10 L254.40,441.10 L255.87,441.10 L257.34,441.10 L258.82,441.10 L260.29,441.10 L261.76,441.10 L263.24,441.10 L264.71,441.10 L266.18,441.10 L267.66,441.10 L269.14,441.10 L270.61,441.10 L272.09,441.10 L273.57,441.10 L275.05,441.10 L276.53,441.10 L278.01,441.10 L279.49,441.10 L280.97,441.10 L282.45,441.10 L283.93,441.10 L285.41,441.10 L286.89,441.10 L288.37,441.10 L289.85,441.10 L291.33,441.10 L292.81,441.10 L294.30,441.10 L295.78,441.10 L297.26,441.10 L298.74,441.10 L300.22,441.10 L301.70,441.10 L303.18,441.10 L304.66,441.10 L306.15,441.10 L307.63,441.10 L309.11,441.10 L310.59,441.10 L312.06,441.10 L313.54,441.10 L315.02,441.10 L316.50,441.10" fill="none" stroke="#0000ff" stroke-width="1.8" clip-path="url(#cC)" stroke-linejoin="round" />
<path d="M33.30,284.00 L33.36,285.47 L33.42,286.97 L33.47,288.51 L33.52,290.07 L33.57,291.64 L33.62,293.23 L33.68,294.81 L33.73,296.38 L33.78,297.94 L33.83,299.48 L33.89,300.99 L33.95,302.45 L34.01,303.87 L34.08,305.24 L34.15,306.54 L34.23,307.77 L34.31,308.93 L34.40,310.00 L34.56,311.53 L34.72,312.81 L34.89,313.95 L35.07,315.10 L35.28,316.37 L35.50,317.90 L35.65,318.97 L35.81,320.13 L35.98,321.36 L36.16,322.67 L36.34,324.03 L36.54,325.45 L36.74,326.92 L36.94,328.43 L37.15,329.96 L37.37,331.52 L37.58,333.10 L37.80,334.68 L38.02,336.26 L38.24,337.84 L38.46,339.40 L38.68,340.93 L38.89,342.44 L39.10,343.90 L39.31,345.34 L39.51,346.78 L39.70,348.22 L39.90,349.66 L40.09,351.11 L40.29,352.55 L40.48,353.99 L40.68,355.43 L40.88,356.87 L41.08,358.31 L41.29,359.75 L41.51,361.19 L41.73,362.62 L41.96,364.06 L42.21,365.50 L42.46,366.93 L42.72,368.37 L43.00,369.80 L43.29,371.25 L43.60,372.72 L43.93,374.21 L44.26,375.70 L44.61,377.20 L44.96,378.70 L45.32,380.19 L45.69,381.69 L46.06,383.18 L46.44,384.65 L46.82,386.12 L47.20,387.56 L47.58,388.99 L47.95,390.39 L48.32,391.77 L48.69,393.11 L49.05,394.42 L49.40,395.70 L49.85,397.29 L50.29,398.83 L50.74,400.32 L51.18,401.78 L51.62,403.21 L52.06,404.61 L52.50,405.99 L52.93,407.35 L53.36,408.71 L53.78,410.05 L54.20,411.40 L54.64,412.88 L55.07,414.36 L55.49,415.82 L55.91,417.27 L56.32,418.70 L56.74,420.09 L57.18,421.44 L57.63,422.75 L58.10,424.00 L58.69,425.43 L59.27,426.76 L59.87,428.03 L60.51,429.28 L61.21,430.56 L62.00,431.90 L62.65,432.96 L63.34,434.08 L64.08,435.23 L64.86,436.39 L65.66,437.56 L66.49,438.72 L67.33,439.85 L68.19,440.93 L69.04,441.95 L69.90,442.90 L70.94,443.99 L71.97,445.02 L73.02,445.99 L74.09,446.90 L75.22,447.75 L76.42,448.51 L77.70,449.20 L78.92,449.74 L80.20,450.23 L81.55,450.66 L82.95,451.04 L84.38,451.35 L85.85,451.61 L87.33,451.81 L88.81,451.94 L90.30,452.00 L91.66,451.98 L93.06,451.89 L94.48,451.72 L95.92,451.50 L97.38,451.23 L98.84,450.92 L100.29,450.58 L101.75,450.23 L103.19,449.88 L104.61,449.53 L106.00,449.20 L107.43,448.85 L108.84,448.48 L110.22,448.09 L111.60,447.69 L112.97,447.28 L114.34,446.86 L115.72,446.44 L117.12,446.02 L118.54,445.61 L120.00,445.20 L121.37,444.84 L122.75,444.48 L124.14,444.14 L125.55,443.79 L126.97,443.45 L128.40,443.10 L129.85,442.75 L131.30,442.38 L132.76,442.01 L134.24,441.63 L135.71,441.22 L137.20,440.80 L138.51,440.41 L139.83,440.00 L141.14,439.58 L142.47,439.15 L143.79,438.71 L145.13,438.26 L146.47,437.80 L147.82,437.34 L149.19,436.87 L150.56,436.40 L151.96,435.93 L153.36,435.47 L154.79,435.01 L156.23,434.55 L157.70,434.10 L158.99,433.71 L160.30,433.32 L161.63,432.92 L162.98,432.52 L164.34,432.12 L165.71,431.72 L167.10,431.32 L168.50,430.92 L169.90,430.52 L171.31,430.12 L172.73,429.72 L174.16,429.33 L175.58,428.94 L177.01,428.56 L178.43,428.18 L179.86,427.81 L181.28,427.44 L182.69,427.09 L184.10,426.74 L185.50,426.40 L186.97,426.05 L188.45,425.71 L189.96,425.37 L191.48,425.03 L193.02,424.70 L194.55,424.37 L196.09,424.04 L197.63,423.73 L199.16,423.41 L200.68,423.11 L202.19,422.81 L203.67,422.53 L205.14,422.25 L206.57,421.98 L207.98,421.72 L209.35,421.47 L210.68,421.24 L211.96,421.01 L213.20,420.80 L214.76,420.54 L216.20,420.30 L217.56,420.08 L218.86,419.88 L220.14,419.70 L221.42,419.52 L222.72,419.36 L224.09,419.20 L225.54,419.05 L227.10,418.90 L228.33,418.79 L229.61,418.69 L230.94,418.59 L232.31,418.50 L233.71,418.41 L235.14,418.33 L236.60,418.25 L238.09,418.17 L239.59,418.10 L241.11,418.04 L242.64,417.97 L244.18,417.91 L245.72,417.85 L247.26,417.79 L248.80,417.73 L250.32,417.67 L251.83,417.61 L253.33,417.56 L254.80,417.50 L256.26,417.44 L257.71,417.39 L259.16,417.34 L260.60,417.30 L262.04,417.25 L263.48,417.21 L264.92,417.17 L266.36,417.13 L267.80,417.10 L269.25,417.06 L270.70,417.03 L272.15,416.99 L273.62,416.95 L275.09,416.91 L276.57,416.88 L278.06,416.84 L279.56,416.79 L281.07,416.75 L282.60,416.70 L284.01,416.65 L285.43,416.61 L286.86,416.56 L288.30,416.51 L289.75,416.46 L291.20,416.41 L292.67,416.36 L294.14,416.31 L295.62,416.25 L297.11,416.20 L298.59,416.15 L300.09,416.09 L301.58,416.04 L303.08,415.99 L304.58,415.93 L306.07,415.88 L307.57,415.82 L309.07,415.77 L310.56,415.71 L312.05,415.66 L313.54,415.61 L315.02,415.55 L316.50,415.50" fill="none" stroke="#ff00ff" stroke-width="1.8" clip-path="url(#cC)" stroke-linejoin="round" />
<line x1="33.20" y1="266.60" x2="315.80" y2="266.60" stroke="#262626" stroke-width="1.3"/>
<line x1="315.80" y1="266.60" x2="315.80" y2="473.00" stroke="#4a4a4a" stroke-width="1.9"/>
<line x1="33.20" y1="266.60" x2="33.20" y2="473.90" stroke="#7e7e7e" stroke-width="1.9"/>
<line x1="32.30" y1="473.00" x2="316.70" y2="473.00" stroke="#7e7e7e" stroke-width="1.9"/>
<path d="M46.66,473.00L46.66,469.20 M46.66,266.60L46.66,270.40 M100.49,473.00L100.49,469.20 M100.49,266.60L100.49,270.40 M154.31,473.00L154.31,469.20 M154.31,266.60L154.31,270.40 M208.14,473.00L208.14,469.20 M208.14,266.60L208.14,270.40 M261.97,473.00L261.97,469.20 M261.97,266.60L261.97,270.40 M315.80,473.00L315.80,469.20 M315.80,266.60L315.80,270.40 M73.57,473.00L73.57,470.60 M73.57,266.60L73.57,269.00 M127.40,473.00L127.40,470.60 M127.40,266.60L127.40,269.00 M181.23,473.00L181.23,470.60 M181.23,266.60L181.23,269.00 M235.06,473.00L235.06,470.60 M235.06,266.60L235.06,269.00 M288.89,473.00L288.89,470.60 M288.89,266.60L288.89,269.00 M33.20,473.00L37.00,473.00 M315.80,473.00L312.00,473.00 M33.20,421.40L37.00,421.40 M315.80,421.40L312.00,421.40 M33.20,369.80L37.00,369.80 M315.80,369.80L312.00,369.80 M33.20,318.20L37.00,318.20 M315.80,318.20L312.00,318.20 M33.20,266.60L37.00,266.60 M315.80,266.60L312.00,266.60 M33.20,447.20L35.60,447.20 M315.80,447.20L313.40,447.20 M33.20,395.60L35.60,395.60 M315.80,395.60L313.40,395.60 M33.20,344.00L35.60,344.00 M315.80,344.00L313.40,344.00 M33.20,292.40L35.60,292.40 M315.80,292.40L313.40,292.40" stroke="#333" stroke-width="1.0" fill="none"/>
<text x="46.66" y="487.00" font-size="10.5" font-weight="bold" font-style="normal" text-anchor="middle" fill="#000" >2</text>
<text x="100.49" y="487.00" font-size="10.5" font-weight="bold" font-style="normal" text-anchor="middle" fill="#000" >4</text>
<text x="154.31" y="487.00" font-size="10.5" font-weight="bold" font-style="normal" text-anchor="middle" fill="#000" >6</text>
<text x="208.14" y="487.00" font-size="10.5" font-weight="bold" font-style="normal" text-anchor="middle" fill="#000" >8</text>
<text x="261.97" y="487.00" font-size="10.5" font-weight="bold" font-style="normal" text-anchor="middle" fill="#000" >10</text>
<text x="314.10" y="488.00" font-size="11.0" font-weight="bold" font-style="normal" text-anchor="middle" fill="#000" >12</text>
<text x="27.90" y="476.40" font-size="10.5" font-weight="bold" font-style="normal" text-anchor="end" fill="#000" >-4</text>
<text x="27.90" y="424.80" font-size="10.5" font-weight="bold" font-style="normal" text-anchor="end" fill="#000" >0</text>
<text x="27.90" y="373.20" font-size="10.5" font-weight="bold" font-style="normal" text-anchor="end" fill="#000" >4</text>
<text x="27.90" y="321.60" font-size="10.5" font-weight="bold" font-style="normal" text-anchor="end" fill="#000" >8</text>
<text x="28.40" y="270.20" font-size="11.2" font-weight="bold" font-style="normal" text-anchor="end" fill="#000" >12</text>
<text x="0" y="0" font-size="11" text-anchor="middle" fill="#111" transform="translate(11.10,365.10) rotate(-90)">Energy (eV)</text>
<text x="147.60" y="505.20" font-size="10.6" fill="#111">R</text>
<text x="154.20" y="505.50" font-size="5" fill="#3a3f4a">Ne-HH</text>
<text x="172.90" y="505.20" font-size="11.4" fill="#111">(bohr)</text>
<text x="289.00" y="280.60" font-size="10.8" font-weight="normal" font-style="normal" text-anchor="start" fill="#1a1a1a" >(c)</text>
<line x1="137.10" y1="442.50" x2="137.10" y2="473.00" stroke="#1f8a1f" stroke-width="1.6" stroke-dasharray="1.5,1.5"/>
<text x="155.50" y="440.20" font-size="10.1" font-weight="bold" font-style="italic" text-anchor="start" fill="#111" >cross point</text>
<rect x="89.3" y="312.4" width="87.1" height="77.6" fill="#fff"/>
<path d="M89.40,341.40 L90.82,341.59 L92.26,341.77 L93.69,341.97 L95.13,342.16 L96.57,342.35 L98.02,342.55 L99.46,342.74 L100.90,342.94 L102.35,343.13 L103.78,343.32 L105.22,343.51 L106.65,343.70 L108.07,343.89 L109.48,344.07 L110.89,344.24 L112.29,344.42 L113.67,344.58 L115.04,344.74 L116.40,344.90 L117.94,345.07 L119.48,345.23 L121.00,345.39 L122.52,345.54 L124.03,345.69 L125.53,345.83 L127.01,345.97 L128.49,346.11 L129.96,346.24 L131.41,346.37 L132.86,346.50 L134.29,346.62 L135.70,346.75 L137.11,346.87 L138.50,347.00 L140.01,347.14 L141.49,347.28 L142.94,347.42 L144.36,347.55 L145.78,347.69 L147.18,347.82 L148.58,347.94 L149.99,348.07 L151.41,348.18 L152.85,348.30 L154.31,348.40 L155.80,348.50 L157.23,348.58 L158.67,348.66 L160.13,348.73 L161.60,348.79 L163.09,348.85 L164.58,348.90 L166.08,348.96 L167.58,349.00 L169.09,349.05 L170.60,349.10 L172.11,349.14 L173.61,349.19 L175.11,349.24 L176.60,349.30" fill="none" stroke="#0000ff" stroke-width="1.2" clip-path="url(#iC)" stroke-linejoin="round" />
<path d="M89.40,374.80 L176.60,324.70" fill="none" stroke="#ff00ff" stroke-width="1.2" clip-path="url(#iC)" stroke-linejoin="round" />
<path d="M90.40,333.30 L91.76,333.31 L93.10,333.32 L94.45,333.35 L95.78,333.37 L97.12,333.40 L98.47,333.42 L99.82,333.43 L101.19,333.43 L102.57,333.41 L103.97,333.37 L105.40,333.30 L106.79,333.21 L108.21,333.11 L109.65,332.98 L111.12,332.84 L112.60,332.69 L114.08,332.52 L115.58,332.35 L117.07,332.17 L118.55,331.98 L120.02,331.78 L121.47,331.59 L122.90,331.39 L124.30,331.20 L125.78,330.99 L127.25,330.77 L128.69,330.55 L130.12,330.31 L131.54,330.08 L132.95,329.84 L134.35,329.59 L135.76,329.35 L137.16,329.10 L138.58,328.85 L140.00,328.60 L141.44,328.35 L142.88,328.12 L144.33,327.88 L145.77,327.65 L147.22,327.41 L148.66,327.16 L150.10,326.91 L151.54,326.63 L152.97,326.35 L154.39,326.04 L155.80,325.70 L157.18,325.34 L158.55,324.96 L159.91,324.55 L161.27,324.13 L162.62,323.69 L163.97,323.24 L165.31,322.79 L166.65,322.33 L168.00,321.88 L169.35,321.43 L170.70,321.00" fill="none" stroke="#ff0000" stroke-width="1.4" stroke-dasharray="3.5,3" clip-path="url(#iC)" stroke-linejoin="round" />
<path d="M89.40,380.00 L90.75,379.48 L92.11,378.96 L93.47,378.44 L94.83,377.91 L96.19,377.38 L97.55,376.85 L98.91,376.32 L100.28,375.79 L101.64,375.26 L103.00,374.73 L104.36,374.20 L105.72,373.68 L107.07,373.16 L108.42,372.65 L109.76,372.14 L111.10,371.63 L112.44,371.14 L113.77,370.65 L115.09,370.17 L116.40,369.70 L117.82,369.19 L119.22,368.69 L120.60,368.20 L121.97,367.71 L123.34,367.23 L124.69,366.75 L126.04,366.28 L127.39,365.81 L128.74,365.35 L130.10,364.90 L131.47,364.45 L132.84,364.01 L134.24,363.57 L135.64,363.15 L137.07,362.72 L138.52,362.31 L140.00,361.90 L141.37,361.54 L142.75,361.18 L144.15,360.84 L145.57,360.50 L147.00,360.17 L148.45,359.85 L149.91,359.53 L151.37,359.22 L152.85,358.91 L154.33,358.61 L155.82,358.31 L157.31,358.01 L158.81,357.71 L160.30,357.42 L161.80,357.12 L163.30,356.82 L164.79,356.52 L166.28,356.22 L167.76,355.92 L169.23,355.61 L170.70,355.30" fill="none" stroke="#000000" stroke-width="1.2" stroke-dasharray="3.5,3" clip-path="url(#iC)" stroke-linejoin="round" />
<rect x="89.30" y="312.40" width="87.10" height="77.60" fill="none" stroke="#444" stroke-width="1.0"/>
<line x1="89.30" y1="312.40" x2="89.30" y2="390.00" stroke="#8a8a8a" stroke-width="1.7"/>
<line x1="89.30" y1="390.00" x2="176.40" y2="390.00" stroke="#8a8a8a" stroke-width="1.7"/>
<path d="M89.30,390.00L89.30,387.80 M89.30,312.40L89.30,314.60 M106.72,390.00L106.72,387.80 M106.72,312.40L106.72,314.60 M124.14,390.00L124.14,387.80 M124.14,312.40L124.14,314.60 M141.56,390.00L141.56,387.80 M141.56,312.40L141.56,314.60 M158.98,390.00L158.98,387.80 M158.98,312.40L158.98,314.60 M176.40,390.00L176.40,387.80 M176.40,312.40L176.40,314.60 M98.01,390.00L98.01,388.70 M98.01,312.40L98.01,313.70 M115.43,390.00L115.43,388.70 M115.43,312.40L115.43,313.70 M132.85,390.00L132.85,388.70 M132.85,312.40L132.85,313.70 M150.27,390.00L150.27,388.70 M150.27,312.40L150.27,313.70 M167.69,390.00L167.69,388.70 M167.69,312.40L167.69,313.70 M89.30,312.40L91.50,312.40 M176.40,312.40L174.20,312.40 M89.30,327.92L91.50,327.92 M176.40,327.92L174.20,327.92 M89.30,343.44L91.50,343.44 M176.40,343.44L174.20,343.44 M89.30,358.96L91.50,358.96 M176.40,358.96L174.20,358.96 M89.30,374.48L91.50,374.48 M176.40,374.48L174.20,374.48 M89.30,390.00L91.50,390.00 M176.40,390.00L174.20,390.00 M89.30,320.16L90.60,320.16 M176.40,320.16L175.10,320.16 M89.30,335.68L90.60,335.68 M176.40,335.68L175.10,335.68 M89.30,351.20L90.60,351.20 M176.40,351.20L175.10,351.20 M89.30,366.72L90.60,366.72 M176.40,366.72L175.10,366.72 M89.30,382.24L90.60,382.24 M176.40,382.24L175.10,382.24" stroke="#555" stroke-width="0.8" fill="none"/>
<text x="89.30" y="395.80" font-size="6.2" font-weight="bold" font-style="normal" text-anchor="middle" fill="#000" >4.8</text>
<text x="106.72" y="395.80" font-size="6.2" font-weight="bold" font-style="normal" text-anchor="middle" fill="#000" >5.0</text>
<text x="124.14" y="395.80" font-size="6.2" font-weight="bold" font-style="normal" text-anchor="middle" fill="#000" >5.2</text>
<text x="141.56" y="395.80" font-size="6.2" font-weight="bold" font-style="normal" text-anchor="middle" fill="#000" >5.4</text>
<text x="158.98" y="395.80" font-size="6.2" font-weight="bold" font-style="normal" text-anchor="middle" fill="#000" >5.6</text>
<text x="176.40" y="395.80" font-size="6.2" font-weight="bold" font-style="normal" text-anchor="middle" fill="#000" >5.8</text>
<text x="87.70" y="314.60" font-size="6.2" font-weight="bold" font-style="normal" text-anchor="end" fill="#000" >-1.0</text>
<text x="87.70" y="330.12" font-size="6.2" font-weight="bold" font-style="normal" text-anchor="end" fill="#000" >-1.2</text>
<text x="87.70" y="345.64" font-size="6.2" font-weight="bold" font-style="normal" text-anchor="end" fill="#000" >-1.4</text>
<text x="87.70" y="361.16" font-size="6.2" font-weight="bold" font-style="normal" text-anchor="end" fill="#000" >-1.6</text>
<text x="87.70" y="376.68" font-size="6.2" font-weight="bold" font-style="normal" text-anchor="end" fill="#000" >-1.8</text>
<text x="87.70" y="392.20" font-size="6.2" font-weight="bold" font-style="normal" text-anchor="end" fill="#000" >-2.0</text>
<text x="0" y="0" font-size="7.2" text-anchor="middle" fill="#222" transform="translate(72.90,356.60) rotate(-90)">Energy (eV)</text>
<text x="112.90" y="408.60" font-size="7" fill="#222">R</text>
<text x="117.50" y="408.80" font-size="3.6" fill="#4a505c">Ne-HH</text>
<text x="151.60" y="408.60" font-size="7.4" fill="#222" text-anchor="end">(bohr)</text>
<path d="M396.50,262.96 L396.64,264.43 L396.78,265.90 L396.92,267.38 L397.07,268.86 L397.21,270.33 L397.35,271.81 L397.49,273.29 L397.63,274.77 L397.78,276.25 L397.92,277.73 L398.06,279.20 L398.20,280.67 L398.34,282.14 L398.49,283.61 L398.63,285.07 L398.77,286.52 L398.91,287.97 L399.06,289.42 L399.20,290.86 L399.34,292.31 L399.48,293.75 L399.63,295.19 L399.77,296.62 L399.91,298.05 L400.05,299.47 L400.19,300.89 L400.33,302.30 L400.47,303.72 L400.62,305.13 L400.76,306.54 L400.90,307.95 L401.05,309.37 L401.19,310.78 L401.34,312.19 L401.49,313.61 L401.64,315.03 L401.80,316.46 L401.95,317.90 L402.11,319.34 L402.27,320.78 L402.42,322.23 L402.58,323.67 L402.74,325.12 L402.89,326.56 L403.05,328.01 L403.22,329.46 L403.38,330.90 L403.55,332.35 L403.72,333.80 L403.89,335.24 L404.06,336.68 L404.24,338.13 L404.42,339.57 L404.61,341.01 L404.80,342.45 L404.99,343.89 L405.19,345.37 L405.39,346.86 L405.60,348.36 L405.82,349.88 L406.03,351.40 L406.25,352.91 L406.47,354.43 L406.70,355.93 L406.92,357.41 L407.14,358.88 L407.37,360.32 L407.59,361.73 L407.82,363.10 L408.04,364.43 L408.26,365.72 L408.48,366.95 L408.69,368.13 L408.97,369.62 L409.24,371.00 L409.50,372.29 L409.76,373.52 L410.02,374.72 L410.30,375.93 L410.60,377.17 L410.92,378.49 L411.29,379.90 L411.63,381.19 L412.00,382.56 L412.40,384.01 L412.83,385.50 L413.27,387.04 L413.72,388.59 L414.19,390.15 L414.65,391.69 L415.12,393.22 L415.58,394.69 L416.03,396.11 L416.47,397.46 L416.89,398.72 L417.28,399.87 L417.80,401.41 L418.27,402.80 L418.71,404.07 L419.18,405.28 L419.71,406.48 L420.35,407.71 L421.07,408.90 L421.89,410.12 L422.78,411.34 L423.72,412.54 L424.65,413.71 L425.56,414.81 L426.41,415.85 L427.23,416.87 L427.96,417.79 L428.70,418.66 L429.50,419.51 L430.46,420.40 L431.35,421.14 L432.35,421.92 L433.42,422.72 L434.56,423.53 L435.74,424.32 L436.96,425.08 L438.18,425.80 L439.39,426.46 L440.57,427.04 L441.80,427.56 L443.05,428.03 L444.32,428.44 L445.60,428.80 L446.89,429.13 L448.19,429.43 L449.49,429.72 L450.78,430.01 L452.23,430.31 L453.68,430.59 L455.13,430.83 L456.58,431.05 L458.03,431.25 L459.49,431.43 L460.94,431.60 L462.41,431.76 L463.88,431.92 L465.36,432.05 L466.83,432.16 L468.28,432.25 L469.71,432.30 L471.09,432.30 L472.50,432.24 L473.87,432.13 L475.23,431.98 L476.57,431.81 L477.91,431.65 L479.26,431.50 L480.56,431.39 L481.85,431.28 L483.12,431.18 L484.40,431.07 L485.67,430.95 L486.95,430.80 L488.28,430.65 L489.61,430.49 L490.93,430.31 L492.26,430.12 L493.59,429.89 L494.91,429.61 L496.25,429.28 L497.55,428.91 L498.85,428.51 L500.21,428.06 L501.66,427.56 L503.27,427.02 L504.38,426.64 L505.57,426.22 L506.83,425.77 L508.15,425.28 L509.52,424.77 L510.94,424.24 L512.38,423.71 L513.84,423.16 L515.31,422.62 L516.77,422.08 L518.22,421.56 L519.65,421.05 L521.04,420.57 L522.39,420.13 L523.68,419.72 L525.09,419.29 L526.46,418.88 L527.79,418.49 L529.10,418.12 L530.40,417.77 L531.69,417.43 L532.98,417.11 L534.28,416.79 L535.60,416.49 L536.94,416.20 L538.32,415.91 L539.73,415.63 L541.18,415.36 L542.67,415.11 L544.17,414.86 L545.68,414.63 L547.20,414.40 L548.71,414.19 L550.21,413.99 L551.68,413.80 L553.11,413.62 L554.51,413.46 L555.86,413.30 L557.39,413.13 L558.82,412.98 L560.19,412.86 L561.53,412.74 L562.90,412.64 L564.33,412.55 L565.88,412.47 L567.58,412.40 L568.73,412.36 L569.91,412.32 L571.12,412.30 L572.36,412.27 L573.63,412.26 L574.93,412.25 L576.27,412.24 L577.64,412.24 L579.04,412.24 L580.47,412.24 L581.94,412.25 L583.44,412.25 L584.98,412.26 L586.56,412.27 L588.17,412.28 L589.82,412.29 L591.51,412.29 L593.23,412.30 L595.00,412.30 L596.80,412.30 L597.94,412.30 L599.10,412.30 L600.29,412.30 L601.50,412.30 L602.74,412.30 L604.00,412.30 L605.29,412.30 L606.60,412.30 L607.93,412.30 L609.28,412.30 L610.65,412.30 L612.03,412.30 L613.44,412.30 L614.87,412.30 L616.31,412.30 L617.77,412.31 L619.24,412.31 L620.73,412.31 L622.23,412.31 L623.74,412.31 L625.27,412.31 L626.81,412.32 L628.35,412.32 L629.91,412.32 L631.48,412.32 L633.06,412.33 L634.64,412.33 L636.23,412.33 L637.83,412.33 L639.43,412.34 L641.04,412.34 L642.65,412.34 L644.26,412.35 L645.88,412.35 L647.50,412.35 L649.11,412.35 L650.73,412.36 L652.35,412.36 L653.97,412.36 L655.58,412.37 L657.19,412.37 L658.80,412.37 L660.40,412.37 L662.00,412.38 L663.59,412.38 L665.17,412.38 L666.75,412.38 L668.31,412.39 L669.87,412.39 L671.42,412.39 L672.96,412.39 L674.49,412.40 L676.00,412.40 L677.50,412.40" fill="none" stroke="#ff0000" stroke-width="1.8" stroke-dasharray="6,5" clip-path="url(#cD)" stroke-linejoin="round" />
<path d="M393.40,263.02 L393.49,264.49 L393.58,265.97 L393.67,267.44 L393.76,268.92 L393.84,270.40 L393.93,271.88 L394.02,273.35 L394.11,274.83 L394.20,276.31 L394.28,277.79 L394.37,279.26 L394.46,280.73 L394.55,282.20 L394.64,283.67 L394.73,285.13 L394.82,286.59 L394.91,288.04 L395.01,289.49 L395.10,290.93 L395.20,292.38 L395.29,293.82 L395.38,295.26 L395.48,296.69 L395.57,298.11 L395.67,299.54 L395.76,300.95 L395.86,302.37 L395.95,303.79 L396.05,305.20 L396.15,306.61 L396.25,308.02 L396.35,309.44 L396.46,310.85 L396.57,312.27 L396.67,313.68 L396.79,315.11 L396.90,316.53 L397.02,317.97 L397.14,319.42 L397.26,320.86 L397.39,322.30 L397.51,323.75 L397.64,325.20 L397.77,326.64 L397.91,328.09 L398.04,329.54 L398.17,330.98 L398.31,332.43 L398.45,333.88 L398.59,335.32 L398.73,336.77 L398.87,338.21 L399.01,339.66 L399.16,341.10 L399.30,342.54 L399.45,343.99 L399.60,345.46 L399.76,346.95 L399.92,348.45 L400.08,349.97 L400.24,351.49 L400.41,353.01 L400.58,354.52 L400.74,356.02 L400.91,357.51 L401.07,358.98 L401.23,360.42 L401.39,361.83 L401.54,363.20 L401.69,364.53 L401.84,365.82 L401.97,367.06 L402.10,368.24 L402.28,369.91 L402.44,371.44 L402.58,372.86 L402.72,374.23 L402.86,375.59 L403.01,376.99 L403.19,378.46 L403.40,380.05 L403.58,381.33 L403.78,382.67 L404.00,384.05 L404.22,385.47 L404.46,386.92 L404.71,388.40 L404.96,389.89 L405.22,391.39 L405.47,392.89 L405.73,394.38 L405.98,395.85 L406.23,397.29 L406.47,398.70 L406.71,400.07 L406.96,401.58 L407.21,403.11 L407.45,404.63 L407.70,406.14 L407.94,407.64 L408.18,409.10 L408.42,410.54 L408.67,411.93 L408.91,413.27 L409.16,414.56 L409.41,415.78 L409.74,417.26 L410.06,418.63 L410.38,419.91 L410.72,421.16 L411.06,422.41 L411.41,423.71 L411.78,425.07 L412.15,426.41 L412.52,427.76 L412.93,429.15 L413.39,430.60 L413.92,432.13 L414.37,433.36 L414.85,434.67 L415.37,436.06 L415.92,437.49 L416.50,438.95 L417.10,440.41 L417.72,441.86 L418.37,443.26 L419.02,444.60 L419.69,445.86 L420.36,447.01 L421.18,448.28 L422.02,449.48 L422.89,450.60 L423.78,451.65 L424.70,452.64 L425.65,453.56 L426.64,454.41 L427.71,455.27 L428.80,456.10 L429.93,456.86 L431.13,457.50 L432.44,458.00 L433.85,458.30 L435.11,458.36 L436.45,458.26 L437.85,458.03 L439.31,457.69 L440.80,457.26 L442.31,456.78 L443.83,456.25 L445.33,455.71 L446.81,455.18 L448.23,454.68 L449.58,454.19 L450.98,453.64 L452.41,453.04 L453.84,452.42 L455.26,451.77 L456.66,451.13 L458.00,450.51 L459.27,449.91 L460.45,449.36 L461.52,448.88 L462.45,448.47 L463.80,447.95 L464.90,447.54 L466.18,446.96 L467.16,446.42 L468.21,445.76 L469.32,445.03 L470.48,444.25 L471.68,443.45 L472.91,442.67 L474.14,441.92 L475.38,441.26 L476.61,440.65 L477.90,440.05 L479.23,439.45 L480.58,438.88 L481.93,438.33 L483.28,437.82 L484.60,437.35 L485.88,436.94 L487.10,436.59 L488.46,436.25 L489.73,436.00 L490.97,435.81 L492.23,435.66 L493.57,435.53 L495.03,435.40 L496.20,435.30 L497.41,435.22 L498.67,435.16 L499.96,435.10 L501.29,435.06 L502.67,435.02 L504.07,434.99 L505.51,434.97 L506.98,434.95 L508.48,434.92 L510.01,434.90 L511.29,434.88 L512.58,434.87 L513.88,434.86 L515.20,434.85 L516.53,434.85 L517.88,434.85 L519.26,434.85 L520.66,434.85 L522.09,434.86 L523.55,434.86 L525.05,434.87 L526.59,434.88 L528.18,434.88 L529.80,434.89 L531.48,434.90 L533.21,434.90 L535.00,434.90 L536.15,434.90 L537.32,434.90 L538.52,434.90 L539.74,434.90 L540.99,434.90 L542.27,434.90 L543.57,434.90 L544.89,434.90 L546.23,434.90 L547.59,434.90 L548.97,434.90 L550.37,434.90 L551.79,434.90 L553.23,434.90 L554.68,434.90 L556.15,434.90 L557.64,434.90 L559.13,434.90 L560.64,434.90 L562.16,434.90 L563.70,434.90 L565.24,434.90 L566.79,434.90 L568.35,434.90 L569.92,434.90 L571.49,434.90 L573.07,434.90 L574.66,434.90 L576.25,434.90 L577.84,434.90 L579.44,434.90 L581.04,434.90 L582.63,434.90 L584.23,434.90 L585.83,434.90 L587.42,434.90 L589.01,434.90 L590.60,434.90 L592.18,434.90 L593.76,434.90 L595.33,434.90 L596.90,434.90 L598.45,434.90 L600.00,434.90 L601.43,434.90 L602.86,434.90 L604.30,434.90 L605.74,434.90 L607.18,434.90 L608.63,434.90 L610.09,434.90 L611.55,434.90 L613.01,434.90 L614.48,434.90 L615.95,434.90 L617.42,434.90 L618.90,434.90 L620.38,434.90 L621.86,434.90 L623.34,434.90 L624.83,434.90 L626.32,434.90 L627.82,434.90 L629.31,434.90 L630.81,434.90 L632.31,434.90 L633.81,434.90 L635.31,434.90 L636.82,434.90 L638.32,434.90 L639.83,434.90 L641.34,434.90 L642.85,434.90 L644.36,434.90 L645.87,434.90 L647.38,434.90 L648.89,434.90 L650.41,434.90 L651.92,434.90 L653.43,434.90 L654.94,434.90 L656.45,434.90 L657.97,434.90 L659.48,434.90 L660.99,434.90 L662.49,434.90 L664.00,434.90 L665.51,434.90 L667.01,434.90 L668.52,434.90 L670.02,434.90 L671.52,434.90 L673.02,434.90 L674.51,434.90 L676.01,434.90 L677.50,434.90" fill="none" stroke="#000000" stroke-width="1.8" stroke-dasharray="6,5" clip-path="url(#cD)" stroke-linejoin="round" />
<path d="M396.10,263.00 L396.24,264.47 L396.38,265.94 L396.53,267.42 L396.67,268.89 L396.81,270.37 L396.95,271.85 L397.09,273.33 L397.24,274.81 L397.38,276.29 L397.52,277.76 L397.66,279.24 L397.80,280.71 L397.95,282.18 L398.09,283.64 L398.23,285.11 L398.37,286.56 L398.52,288.01 L398.66,289.46 L398.80,290.90 L398.94,292.35 L399.09,293.79 L399.23,295.23 L399.37,296.66 L399.51,298.09 L399.65,299.51 L399.79,300.93 L399.93,302.34 L400.08,303.76 L400.22,305.17 L400.36,306.58 L400.51,307.99 L400.65,309.41 L400.80,310.82 L400.94,312.24 L401.09,313.65 L401.25,315.07 L401.40,316.50 L401.56,317.94 L401.71,319.38 L401.87,320.83 L402.02,322.27 L402.18,323.71 L402.34,325.16 L402.50,326.61 L402.66,328.05 L402.82,329.50 L402.98,330.95 L403.15,332.40 L403.32,333.84 L403.49,335.29 L403.66,336.73 L403.84,338.18 L404.02,339.62 L404.21,341.06 L404.40,342.50 L404.59,343.95 L404.79,345.42 L405.00,346.91 L405.21,348.42 L405.42,349.93 L405.64,351.45 L405.86,352.97 L406.08,354.48 L406.30,355.99 L406.52,357.47 L406.75,358.94 L406.97,360.38 L407.20,361.79 L407.42,363.16 L407.65,364.50 L407.87,365.78 L408.08,367.02 L408.30,368.20 L408.58,369.70 L408.85,371.08 L409.11,372.37 L409.37,373.60 L409.63,374.81 L409.91,376.02 L410.21,377.27 L410.54,378.58 L410.90,380.00 L411.24,381.29 L411.62,382.67 L412.02,384.12 L412.44,385.61 L412.88,387.15 L413.34,388.70 L413.80,390.26 L414.27,391.81 L414.74,393.33 L415.20,394.81 L415.65,396.24 L416.09,397.59 L416.51,398.85 L416.90,400.00 L417.42,401.54 L417.89,402.93 L418.34,404.21 L418.81,405.44 L419.35,406.65 L420.00,407.90 L420.73,409.12 L421.56,410.35 L422.47,411.58 L423.40,412.79 L424.34,413.96 L425.25,415.07 L426.10,416.10 L426.91,417.12 L427.65,418.04 L428.40,418.92 L429.22,419.80 L430.20,420.70 L431.10,421.45 L432.10,422.24 L433.19,423.05 L434.33,423.86 L435.53,424.66 L436.75,425.42 L437.98,426.15 L439.20,426.81 L440.40,427.40 L441.65,427.94 L442.92,428.41 L444.21,428.82 L445.50,429.18 L446.80,429.52 L448.10,429.82 L449.40,430.11 L450.70,430.40 L452.15,430.70 L453.61,430.97 L455.06,431.21 L456.52,431.43 L457.98,431.63 L459.44,431.81 L460.90,432.00 L462.36,432.18 L463.81,432.34 L465.27,432.49 L466.73,432.62 L468.18,432.75 L469.64,432.88 L471.10,433.00 L472.58,433.12 L474.09,433.22 L475.62,433.32 L477.12,433.42 L478.59,433.51 L479.99,433.61 L481.30,433.70 L482.82,433.83 L484.17,433.96 L485.56,434.08 L487.20,434.20 L488.35,434.27 L489.58,434.33 L490.89,434.39 L492.27,434.46 L493.72,434.51 L495.22,434.57 L496.78,434.62 L498.38,434.67 L500.02,434.72 L501.70,434.76 L503.40,434.80 L504.61,434.82 L505.84,434.85 L507.09,434.87 L508.36,434.88 L509.65,434.90 L510.96,434.91 L512.29,434.92 L513.65,434.93 L515.02,434.94 L516.42,434.95 L517.84,434.96 L519.28,434.96 L520.75,434.97 L522.24,434.97 L523.75,434.97 L525.29,434.98 L526.84,434.98 L528.43,434.98 L530.03,434.99 L531.66,434.99 L533.32,435.00 L535.00,435.00 L536.22,435.00 L537.47,435.01 L538.73,435.01 L540.02,435.01 L541.32,435.02 L542.64,435.02 L543.98,435.02 L545.33,435.02 L546.70,435.02 L548.09,435.02 L549.49,435.02 L550.90,435.02 L552.33,435.02 L553.77,435.02 L555.22,435.03 L556.69,435.02 L558.17,435.02 L559.65,435.02 L561.15,435.02 L562.66,435.02 L564.17,435.02 L565.69,435.02 L567.22,435.02 L568.76,435.02 L570.31,435.02 L571.85,435.02 L573.41,435.02 L574.97,435.01 L576.53,435.01 L578.10,435.01 L579.66,435.01 L581.23,435.01 L582.80,435.01 L584.38,435.01 L585.95,435.01 L587.52,435.00 L589.09,435.00 L590.66,435.00 L592.23,435.00 L593.79,435.00 L595.35,435.00 L596.90,435.00 L598.45,435.00 L600.00,435.00 L601.43,435.00 L602.86,435.00 L604.30,435.00 L605.74,435.00 L607.18,435.00 L608.63,435.00 L610.09,435.00 L611.55,435.00 L613.01,435.00 L614.48,435.00 L615.95,435.00 L617.42,435.00 L618.90,435.00 L620.38,435.00 L621.86,435.00 L623.34,435.00 L624.83,435.00 L626.32,435.00 L627.82,435.00 L629.31,435.00 L630.81,435.00 L632.31,435.00 L633.81,435.00 L635.31,435.00 L636.82,435.00 L638.32,435.00 L639.83,435.00 L641.34,435.00 L642.85,435.00 L644.36,435.00 L645.87,435.00 L647.38,435.00 L648.89,435.00 L650.41,435.00 L651.92,435.00 L653.43,435.00 L654.94,435.00 L656.45,435.00 L657.97,435.00 L659.48,435.00 L660.99,435.00 L662.49,435.00 L664.00,435.00 L665.51,435.00 L667.01,435.00 L668.52,435.00 L670.02,435.00 L671.52,435.00 L673.02,435.00 L674.51,435.00 L676.01,435.00 L677.50,435.00" fill="none" stroke="#0000ff" stroke-width="1.8" clip-path="url(#cD)" stroke-linejoin="round" />
<path d="M393.80,263.00 L393.89,264.47 L393.98,265.94 L394.07,267.42 L394.15,268.89 L394.24,270.37 L394.33,271.85 L394.42,273.33 L394.51,274.81 L394.59,276.29 L394.68,277.76 L394.77,279.24 L394.86,280.71 L394.95,282.18 L395.04,283.64 L395.13,285.11 L395.22,286.56 L395.31,288.01 L395.41,289.46 L395.50,290.90 L395.60,292.35 L395.69,293.79 L395.78,295.23 L395.88,296.66 L395.97,298.09 L396.07,299.51 L396.16,300.93 L396.26,302.34 L396.35,303.76 L396.45,305.17 L396.55,306.58 L396.65,307.99 L396.75,309.41 L396.86,310.82 L396.96,312.24 L397.07,313.65 L397.19,315.08 L397.30,316.50 L397.42,317.94 L397.54,319.38 L397.66,320.82 L397.79,322.27 L397.91,323.71 L398.04,325.16 L398.17,326.61 L398.30,328.05 L398.44,329.50 L398.57,330.95 L398.71,332.39 L398.85,333.84 L398.99,335.29 L399.13,336.73 L399.27,338.17 L399.41,339.62 L399.56,341.06 L399.70,342.50 L399.85,343.95 L400.00,345.42 L400.16,346.91 L400.31,348.41 L400.48,349.93 L400.64,351.45 L400.81,352.96 L400.97,354.48 L401.14,355.98 L401.31,357.46 L401.47,358.93 L401.63,360.37 L401.79,361.78 L401.94,363.16 L402.09,364.49 L402.23,365.78 L402.37,367.02 L402.50,368.20 L402.68,369.87 L402.83,371.40 L402.98,372.82 L403.11,374.19 L403.26,375.55 L403.41,376.94 L403.59,378.41 L403.80,380.00 L403.98,381.27 L404.18,382.61 L404.39,383.99 L404.62,385.41 L404.86,386.86 L405.10,388.34 L405.35,389.83 L405.61,391.33 L405.87,392.82 L406.12,394.31 L406.38,395.78 L406.63,397.22 L406.87,398.63 L407.10,400.00 L407.35,401.52 L407.60,403.04 L407.85,404.57 L408.09,406.08 L408.34,407.57 L408.58,409.04 L408.82,410.47 L409.06,411.86 L409.31,413.20 L409.55,414.48 L409.80,415.70 L410.13,417.18 L410.45,418.53 L410.77,419.81 L411.10,421.05 L411.44,422.30 L411.80,423.60 L412.17,424.96 L412.53,426.31 L412.91,427.65 L413.31,429.03 L413.77,430.47 L414.30,432.00 L414.74,433.22 L415.23,434.53 L415.75,435.92 L416.29,437.35 L416.87,438.80 L417.47,440.26 L418.09,441.70 L418.73,443.09 L419.38,444.42 L420.04,445.67 L420.70,446.80 L421.51,448.06 L422.35,449.24 L423.20,450.35 L424.08,451.39 L424.98,452.36 L425.92,453.26 L426.90,454.10 L427.96,454.95 L429.03,455.77 L430.14,456.51 L431.30,457.14 L432.55,457.62 L433.90,457.90 L435.10,457.96 L436.40,457.86 L437.77,457.64 L439.21,457.30 L440.69,456.88 L442.19,456.40 L443.70,455.87 L445.20,455.33 L446.67,454.80 L448.10,454.30 L449.44,453.82 L450.83,453.29 L452.26,452.71 L453.69,452.11 L455.11,451.49 L456.50,450.87 L457.84,450.25 L459.11,449.65 L460.29,449.09 L461.36,448.57 L462.30,448.10 L463.67,447.39 L464.75,446.76 L466.00,446.00 L466.93,445.42 L467.94,444.75 L469.02,444.03 L470.15,443.26 L471.33,442.48 L472.54,441.69 L473.77,440.92 L475.00,440.20 L476.12,439.58 L477.27,438.96 L478.44,438.35 L479.63,437.75 L480.84,437.15 L482.07,436.55 L483.33,435.96 L484.60,435.38 L485.89,434.79 L487.20,434.20 L488.46,433.65 L489.73,433.10 L491.03,432.55 L492.34,432.01 L493.67,431.47 L495.02,430.93 L496.38,430.40 L497.76,429.86 L499.15,429.32 L500.56,428.78 L501.97,428.24 L503.40,427.70 L504.69,427.21 L506.02,426.71 L507.37,426.20 L508.74,425.68 L510.13,425.16 L511.53,424.64 L512.94,424.12 L514.35,423.61 L515.75,423.11 L517.14,422.61 L518.52,422.13 L519.88,421.67 L521.22,421.22 L522.53,420.80 L523.80,420.40 L525.20,419.97 L526.57,419.56 L527.90,419.18 L529.21,418.81 L530.50,418.46 L531.79,418.12 L533.07,417.80 L534.37,417.48 L535.68,417.18 L537.02,416.89 L538.40,416.60 L539.81,416.32 L541.25,416.06 L542.73,415.80 L544.23,415.56 L545.74,415.32 L547.26,415.10 L548.76,414.89 L550.26,414.69 L551.73,414.50 L553.16,414.32 L554.56,414.15 L555.90,414.00 L557.44,413.83 L558.86,413.68 L560.22,413.55 L561.56,413.44 L562.93,413.34 L564.36,413.25 L565.90,413.17 L567.60,413.10 L568.75,413.06 L569.92,413.02 L571.13,413.00 L572.37,412.97 L573.63,412.96 L574.94,412.95 L576.27,412.94 L577.64,412.94 L579.04,412.94 L580.47,412.94 L581.94,412.95 L583.44,412.95 L584.98,412.96 L586.56,412.97 L588.17,412.98 L589.82,412.99 L591.51,412.99 L593.23,413.00 L595.00,413.00 L596.80,413.00 L597.94,413.00 L599.10,413.00 L600.29,413.00 L601.50,413.00 L602.74,413.00 L604.00,413.00 L605.29,413.00 L606.60,413.00 L607.93,413.00 L609.28,413.00 L610.65,413.00 L612.03,413.00 L613.44,413.00 L614.87,413.00 L616.31,413.00 L617.77,413.01 L619.24,413.01 L620.73,413.01 L622.23,413.01 L623.74,413.01 L625.27,413.01 L626.81,413.02 L628.35,413.02 L629.91,413.02 L631.48,413.02 L633.06,413.03 L634.64,413.03 L636.23,413.03 L637.83,413.03 L639.43,413.04 L641.04,413.04 L642.65,413.04 L644.26,413.05 L645.88,413.05 L647.49,413.05 L649.11,413.05 L650.73,413.06 L652.35,413.06 L653.96,413.06 L655.58,413.07 L657.19,413.07 L658.80,413.07 L660.40,413.07 L661.99,413.08 L663.59,413.08 L665.17,413.08 L666.75,413.08 L668.31,413.09 L669.87,413.09 L671.42,413.09 L672.96,413.09 L674.48,413.10 L676.00,413.10 L677.50,413.10" fill="none" stroke="#ff00ff" stroke-width="1.8" clip-path="url(#cD)" stroke-linejoin="round" />
<line x1="393.30" y1="265.40" x2="676.50" y2="265.40" stroke="#262626" stroke-width="1.3"/>
<line x1="676.50" y1="265.40" x2="676.50" y2="471.50" stroke="#4a4a4a" stroke-width="1.9"/>
<line x1="393.30" y1="265.40" x2="393.30" y2="472.40" stroke="#7e7e7e" stroke-width="1.9"/>
<line x1="392.40" y1="471.50" x2="677.40" y2="471.50" stroke="#7e7e7e" stroke-width="1.9"/>
<path d="M403.07,471.50L403.07,467.70 M403.07,265.40L403.07,269.20 M442.13,471.50L442.13,467.70 M442.13,265.40L442.13,269.20 M481.19,471.50L481.19,467.70 M481.19,265.40L481.19,269.20 M520.25,471.50L520.25,467.70 M520.25,265.40L520.25,269.20 M559.31,471.50L559.31,467.70 M559.31,265.40L559.31,269.20 M598.38,471.50L598.38,467.70 M598.38,265.40L598.38,269.20 M637.44,471.50L637.44,467.70 M637.44,265.40L637.44,269.20 M676.50,471.50L676.50,467.70 M676.50,265.40L676.50,269.20 M422.60,471.50L422.60,469.10 M422.60,265.40L422.60,267.80 M461.66,471.50L461.66,469.10 M461.66,265.40L461.66,267.80 M500.72,471.50L500.72,469.10 M500.72,265.40L500.72,267.80 M539.78,471.50L539.78,469.10 M539.78,265.40L539.78,267.80 M578.84,471.50L578.84,469.10 M578.84,265.40L578.84,267.80 M617.91,471.50L617.91,469.10 M617.91,265.40L617.91,267.80 M656.97,471.50L656.97,469.10 M656.97,265.40L656.97,267.80 M393.30,471.50L397.10,471.50 M676.50,471.50L672.70,471.50 M393.30,419.98L397.10,419.98 M676.50,419.98L672.70,419.98 M393.30,368.45L397.10,368.45 M676.50,368.45L672.70,368.45 M393.30,316.92L397.10,316.92 M676.50,316.92L672.70,316.92 M393.30,265.40L397.10,265.40 M676.50,265.40L672.70,265.40 M393.30,445.74L395.70,445.74 M676.50,445.74L674.10,445.74 M393.30,394.21L395.70,394.21 M676.50,394.21L674.10,394.21 M393.30,342.69L395.70,342.69 M676.50,342.69L674.10,342.69 M393.30,291.16L395.70,291.16 M676.50,291.16L674.10,291.16" stroke="#333" stroke-width="1.0" fill="none"/>
<text x="403.07" y="485.60" font-size="10.9" font-weight="bold" font-style="normal" text-anchor="middle" fill="#000" >2</text>
<text x="442.13" y="485.60" font-size="10.9" font-weight="bold" font-style="normal" text-anchor="middle" fill="#000" >4</text>
<text x="481.19" y="485.60" font-size="10.9" font-weight="bold" font-style="normal" text-anchor="middle" fill="#000" >6</text>
<text x="520.25" y="485.60" font-size="10.9" font-weight="bold" font-style="normal" text-anchor="middle" fill="#000" >8</text>
<text x="559.31" y="485.60" font-size="10.9" font-weight="bold" font-style="normal" text-anchor="middle" fill="#000" >10</text>
<text x="598.38" y="485.60" font-size="10.9" font-weight="bold" font-style="normal" text-anchor="middle" fill="#000" >12</text>
<text x="637.44" y="485.60" font-size="10.9" font-weight="bold" font-style="normal" text-anchor="middle" fill="#000" >14</text>
<text x="676.50" y="485.60" font-size="10.9" font-weight="bold" font-style="normal" text-anchor="middle" fill="#000" >16</text>
<text x="388.00" y="474.90" font-size="10.5" font-weight="bold" font-style="normal" text-anchor="end" fill="#000" >-3</text>
<text x="388.00" y="423.38" font-size="10.5" font-weight="bold" font-style="normal" text-anchor="end" fill="#000" >0</text>
<text x="388.00" y="371.85" font-size="10.5" font-weight="bold" font-style="normal" text-anchor="end" fill="#000" >3</text>
<text x="388.00" y="320.32" font-size="10.5" font-weight="bold" font-style="normal" text-anchor="end" fill="#000" >6</text>
<text x="388.30" y="268.30" font-size="11.2" font-weight="bold" font-style="normal" text-anchor="end" fill="#000" >9</text>
<text x="0" y="0" font-size="11" text-anchor="middle" fill="#111" transform="translate(368.70,372.45) rotate(-90)">Energy (eV)</text>
<text x="506.80" y="504.30" font-size="10.6" fill="#111">R</text>
<text x="513.40" y="504.60" font-size="5" fill="#3a3f4a">Ne-HH</text>
<text x="532.10" y="504.30" font-size="11.4" fill="#111">(bohr)</text>
<text x="646.20" y="282.20" font-size="10.8" font-weight="normal" font-style="normal" text-anchor="start" fill="#1a1a1a" >(d)</text>
<line x1="487.00" y1="436.00" x2="487.00" y2="471.50" stroke="#1f8a1f" stroke-width="1.6" stroke-dasharray="1.5,1.5"/>
<text x="502.40" y="432.60" font-size="10.1" font-weight="bold" font-style="italic" text-anchor="start" fill="#111" >cross point</text>
<rect x="450.4" y="301.3" width="96" height="78" fill="#fff"/>
<path d="M450.30,328.00 L451.79,328.19 L453.30,328.38 L454.81,328.57 L456.34,328.77 L457.87,328.96 L459.40,329.15 L460.93,329.35 L462.47,329.54 L464.00,329.73 L465.53,329.93 L467.04,330.12 L468.55,330.31 L470.05,330.50 L471.53,330.69 L473.00,330.88 L474.45,331.07 L475.87,331.25 L477.27,331.44 L478.65,331.62 L480.00,331.80 L481.54,332.01 L483.03,332.22 L484.49,332.44 L485.92,332.65 L487.33,332.87 L488.72,333.08 L490.10,333.29 L491.46,333.49 L492.83,333.70 L494.20,333.89 L495.57,334.08 L496.96,334.26 L498.37,334.44 L499.80,334.60 L501.20,334.75 L502.61,334.89 L504.01,335.03 L505.42,335.16 L506.83,335.29 L508.25,335.40 L509.67,335.52 L511.09,335.63 L512.53,335.73 L513.97,335.83 L515.41,335.93 L516.87,336.03 L518.34,336.12 L519.81,336.21 L521.30,336.30 L522.73,336.38 L524.18,336.46 L525.64,336.53 L527.11,336.60 L528.59,336.66 L530.08,336.72 L531.57,336.77 L533.07,336.83 L534.57,336.88 L536.08,336.93 L537.59,336.98 L539.10,337.03 L540.60,337.08 L542.11,337.13 L543.61,337.19 L545.11,337.24 L546.60,337.30" fill="none" stroke="#0000ff" stroke-width="1.2" clip-path="url(#iD)" stroke-linejoin="round" />
<path d="M453.60,379.50 L540.30,301.00" fill="none" stroke="#ff00ff" stroke-width="1.2" clip-path="url(#iD)" stroke-linejoin="round" />
<path d="M452.80,324.40 L454.20,324.41 L455.61,324.43 L457.02,324.47 L458.42,324.50 L459.83,324.53 L461.24,324.55 L462.64,324.55 L464.03,324.53 L465.42,324.48 L466.80,324.40 L468.28,324.27 L469.74,324.11 L471.18,323.93 L472.62,323.72 L474.07,323.49 L475.52,323.24 L476.98,322.97 L478.48,322.69 L480.00,322.40 L481.32,322.15 L482.65,321.88 L484.01,321.60 L485.38,321.31 L486.76,321.01 L488.15,320.70 L489.55,320.37 L490.95,320.04 L492.35,319.70 L493.74,319.34 L495.13,318.98 L496.50,318.60 L497.89,318.21 L499.29,317.81 L500.69,317.39 L502.10,316.96 L503.50,316.53 L504.90,316.08 L506.29,315.62 L507.67,315.16 L509.03,314.68 L510.38,314.19 L511.70,313.70 L513.00,313.20 L514.41,312.64 L515.81,312.07 L517.21,311.49 L518.58,310.90 L519.94,310.30 L521.27,309.68 L522.56,309.06 L523.82,308.42 L525.04,307.77 L526.20,307.10 L527.52,306.27 L528.76,305.42 L529.94,304.55 L531.08,303.66 L532.20,302.77 L533.34,301.88 L534.50,301.00" fill="none" stroke="#ff0000" stroke-width="1.4" stroke-dasharray="3.5,3" clip-path="url(#iD)" stroke-linejoin="round" />
<path d="M458.60,379.00 L459.69,378.17 L460.78,377.34 L461.86,376.51 L462.94,375.68 L464.02,374.86 L465.10,374.03 L466.18,373.20 L467.28,372.37 L468.38,371.53 L469.50,370.69 L470.64,369.85 L471.80,369.00 L472.91,368.18 L474.04,367.35 L475.19,366.50 L476.34,365.64 L477.51,364.77 L478.69,363.91 L479.87,363.04 L481.07,362.19 L482.27,361.34 L483.47,360.51 L484.68,359.69 L485.88,358.90 L487.09,358.13 L488.30,357.40 L489.54,356.67 L490.80,355.97 L492.05,355.28 L493.31,354.61 L494.58,353.96 L495.85,353.32 L497.12,352.70 L498.40,352.10 L499.67,351.50 L500.95,350.91 L502.23,350.34 L503.52,349.76 L504.80,349.20 L506.15,348.61 L507.48,348.02 L508.81,347.44 L510.12,346.87 L511.44,346.32 L512.77,345.77 L514.12,345.25 L515.48,344.74 L516.88,344.24 L518.31,343.77 L519.78,343.32 L521.30,342.90 L522.56,342.58 L523.85,342.28 L525.17,342.01 L526.52,341.75 L527.90,341.50 L529.29,341.28 L530.71,341.06 L532.14,340.85 L533.58,340.66 L535.03,340.46 L536.49,340.27 L537.95,340.09 L539.41,339.90 L540.86,339.71 L542.31,339.52 L543.76,339.32 L545.19,339.12 L546.60,338.90" fill="none" stroke="#000000" stroke-width="1.2" stroke-dasharray="3.5,3" clip-path="url(#iD)" stroke-linejoin="round" />
<rect x="450.40" y="301.30" width="96.00" height="78.00" fill="none" stroke="#444" stroke-width="1.0"/>
<line x1="450.40" y1="301.30" x2="450.40" y2="379.30" stroke="#8a8a8a" stroke-width="1.7"/>
<line x1="450.40" y1="379.30" x2="546.40" y2="379.30" stroke="#8a8a8a" stroke-width="1.7"/>
<path d="M450.40,379.30L450.40,377.10 M450.40,301.30L450.40,303.50 M482.40,379.30L482.40,377.10 M482.40,301.30L482.40,303.50 M514.40,379.30L514.40,377.10 M514.40,301.30L514.40,303.50 M546.40,379.30L546.40,377.10 M546.40,301.30L546.40,303.50 M466.40,379.30L466.40,378.00 M466.40,301.30L466.40,302.60 M498.40,379.30L498.40,378.00 M498.40,301.30L498.40,302.60 M530.40,379.30L530.40,378.00 M530.40,301.30L530.40,302.60 M450.40,301.30L452.60,301.30 M546.40,301.30L544.20,301.30 M450.40,327.30L452.60,327.30 M546.40,327.30L544.20,327.30 M450.40,353.30L452.60,353.30 M546.40,353.30L544.20,353.30 M450.40,379.30L452.60,379.30 M546.40,379.30L544.20,379.30 M450.40,314.30L451.70,314.30 M546.40,314.30L545.10,314.30 M450.40,340.30L451.70,340.30 M546.40,340.30L545.10,340.30 M450.40,366.30L451.70,366.30 M546.40,366.30L545.10,366.30" stroke="#555" stroke-width="0.8" fill="none"/>
<text x="450.40" y="385.70" font-size="6.2" font-weight="bold" font-style="normal" text-anchor="middle" fill="#000" >5.5</text>
<text x="482.40" y="385.70" font-size="6.2" font-weight="bold" font-style="normal" text-anchor="middle" fill="#000" >6.0</text>
<text x="514.40" y="385.70" font-size="6.2" font-weight="bold" font-style="normal" text-anchor="middle" fill="#000" >6.5</text>
<text x="546.40" y="385.70" font-size="6.2" font-weight="bold" font-style="normal" text-anchor="middle" fill="#000" >7.0</text>
<text x="449.10" y="303.50" font-size="6.0" font-weight="bold" font-style="normal" text-anchor="end" fill="#000" >-0.50</text>
<text x="449.10" y="329.50" font-size="6.0" font-weight="bold" font-style="normal" text-anchor="end" fill="#000" >-0.75</text>
<text x="449.10" y="355.50" font-size="6.0" font-weight="bold" font-style="normal" text-anchor="end" fill="#000" >-1.00</text>
<text x="449.10" y="381.50" font-size="6.0" font-weight="bold" font-style="normal" text-anchor="end" fill="#000" >-1.25</text>
<text x="0" y="0" font-size="7.2" text-anchor="middle" fill="#222" transform="translate(428.70,341.10) rotate(-90)">Energy (eV)</text>
<text x="477.30" y="400.00" font-size="7" fill="#222">R</text>
<text x="481.90" y="400.20" font-size="3.6" fill="#4a505c">Ne-HH</text>
<text x="516.00" y="400.00" font-size="7.4" fill="#222" text-anchor="end">(bohr)</text>
</svg>
</body></html>
